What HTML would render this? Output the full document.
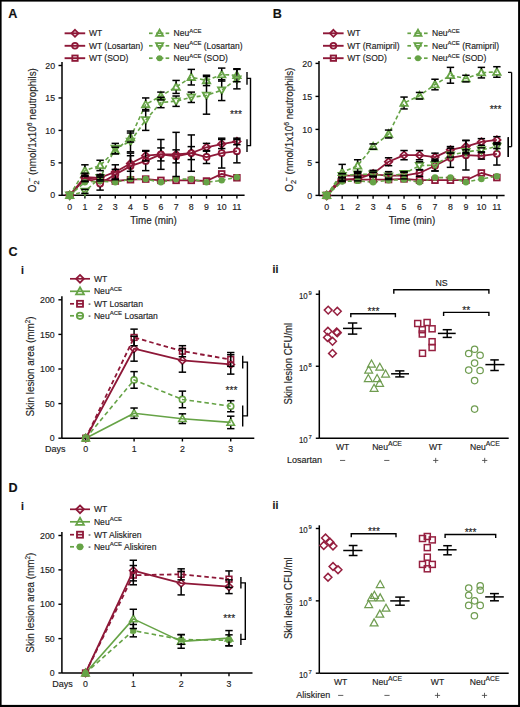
<!DOCTYPE html>
<html><head><meta charset="utf-8"><style>
html,body{margin:0;padding:0;background:#fff;}
svg{display:block;font-family:"Liberation Sans", sans-serif;}
text{stroke:#222;stroke-width:0.15px;}
</style></head><body>
<svg width="520" height="707" viewBox="0 0 520 707">
<rect x="0" y="0" width="520" height="707" fill="#fff"/>
<text x="8.30" y="18.30" font-size="12.6" text-anchor="start" font-weight="bold" fill="#111" >A</text>
<line x1="62.00" y1="62.00" x2="62.00" y2="195.30" stroke="#000" stroke-width="1.5" stroke-linecap="butt"/>
<line x1="62.00" y1="195.30" x2="244.60" y2="195.30" stroke="#000" stroke-width="1.5" stroke-linecap="butt"/>
<line x1="58.50" y1="195.30" x2="62.00" y2="195.30" stroke="#000" stroke-width="1.4" stroke-linecap="butt"/>
<text x="55.10" y="198.40" font-size="8.8" text-anchor="end" font-weight="normal" fill="#222" >0</text>
<line x1="58.50" y1="162.85" x2="62.00" y2="162.85" stroke="#000" stroke-width="1.4" stroke-linecap="butt"/>
<text x="55.10" y="165.95" font-size="8.8" text-anchor="end" font-weight="normal" fill="#222" >5</text>
<line x1="58.50" y1="130.40" x2="62.00" y2="130.40" stroke="#000" stroke-width="1.4" stroke-linecap="butt"/>
<text x="55.10" y="133.50" font-size="8.8" text-anchor="end" font-weight="normal" fill="#222" >10</text>
<line x1="58.50" y1="97.95" x2="62.00" y2="97.95" stroke="#000" stroke-width="1.4" stroke-linecap="butt"/>
<text x="55.10" y="101.05" font-size="8.8" text-anchor="end" font-weight="normal" fill="#222" >15</text>
<line x1="58.50" y1="65.50" x2="62.00" y2="65.50" stroke="#000" stroke-width="1.4" stroke-linecap="butt"/>
<text x="55.10" y="68.60" font-size="8.8" text-anchor="end" font-weight="normal" fill="#222" >20</text>
<line x1="69.70" y1="195.30" x2="69.70" y2="198.60" stroke="#000" stroke-width="1.4" stroke-linecap="butt"/>
<text x="69.70" y="210.30" font-size="8.8" text-anchor="middle" font-weight="normal" fill="#222" >0</text>
<line x1="84.90" y1="195.30" x2="84.90" y2="198.60" stroke="#000" stroke-width="1.4" stroke-linecap="butt"/>
<text x="84.90" y="210.30" font-size="8.8" text-anchor="middle" font-weight="normal" fill="#222" >1</text>
<line x1="100.10" y1="195.30" x2="100.10" y2="198.60" stroke="#000" stroke-width="1.4" stroke-linecap="butt"/>
<text x="100.10" y="210.30" font-size="8.8" text-anchor="middle" font-weight="normal" fill="#222" >2</text>
<line x1="115.30" y1="195.30" x2="115.30" y2="198.60" stroke="#000" stroke-width="1.4" stroke-linecap="butt"/>
<text x="115.30" y="210.30" font-size="8.8" text-anchor="middle" font-weight="normal" fill="#222" >3</text>
<line x1="130.50" y1="195.30" x2="130.50" y2="198.60" stroke="#000" stroke-width="1.4" stroke-linecap="butt"/>
<text x="130.50" y="210.30" font-size="8.8" text-anchor="middle" font-weight="normal" fill="#222" >4</text>
<line x1="145.70" y1="195.30" x2="145.70" y2="198.60" stroke="#000" stroke-width="1.4" stroke-linecap="butt"/>
<text x="145.70" y="210.30" font-size="8.8" text-anchor="middle" font-weight="normal" fill="#222" >5</text>
<line x1="160.90" y1="195.30" x2="160.90" y2="198.60" stroke="#000" stroke-width="1.4" stroke-linecap="butt"/>
<text x="160.90" y="210.30" font-size="8.8" text-anchor="middle" font-weight="normal" fill="#222" >6</text>
<line x1="176.10" y1="195.30" x2="176.10" y2="198.60" stroke="#000" stroke-width="1.4" stroke-linecap="butt"/>
<text x="176.10" y="210.30" font-size="8.8" text-anchor="middle" font-weight="normal" fill="#222" >7</text>
<line x1="191.30" y1="195.30" x2="191.30" y2="198.60" stroke="#000" stroke-width="1.4" stroke-linecap="butt"/>
<text x="191.30" y="210.30" font-size="8.8" text-anchor="middle" font-weight="normal" fill="#222" >8</text>
<line x1="206.50" y1="195.30" x2="206.50" y2="198.60" stroke="#000" stroke-width="1.4" stroke-linecap="butt"/>
<text x="206.50" y="210.30" font-size="8.8" text-anchor="middle" font-weight="normal" fill="#222" >9</text>
<line x1="221.70" y1="195.30" x2="221.70" y2="198.60" stroke="#000" stroke-width="1.4" stroke-linecap="butt"/>
<text x="221.70" y="210.30" font-size="8.8" text-anchor="middle" font-weight="normal" fill="#222" >10</text>
<line x1="236.90" y1="195.30" x2="236.90" y2="198.60" stroke="#000" stroke-width="1.4" stroke-linecap="butt"/>
<text x="236.90" y="210.30" font-size="8.8" text-anchor="middle" font-weight="normal" fill="#222" >11</text>
<text transform="translate(153.50,224.30) scale(0.92,1)" font-size="10.7" text-anchor="middle" fill="#222">Time (min)</text>
<text transform="translate(36.20,130.15) rotate(-90) scale(0.92,1)" font-size="10.75" text-anchor="middle" fill="#222">O<tspan font-size="8.0" dy="2.4">2</tspan><tspan font-size="7.4" dx="-1.5" dy="-6.5">−</tspan><tspan dy="4.1"> (nmol/1x10</tspan><tspan font-size="7.4" dy="-4.2">6</tspan><tspan dy="4.2"> neutrophils)</tspan></text>
<polyline points="69.70,195.30 84.90,177.13 100.10,177.78 115.30,171.94 130.50,163.50 145.70,155.71 160.90,154.41 176.10,154.41 191.30,153.12 206.50,147.27 221.70,144.03 236.90,141.43" fill="none" stroke="#8e1838" stroke-width="1.8" stroke-linejoin="round"/>
<polyline points="69.70,195.30 84.90,178.43 100.10,183.62 115.30,174.53 130.50,166.09 145.70,160.90 160.90,154.41 176.10,156.36 191.30,153.12 206.50,157.01 221.70,153.12 236.90,151.17" fill="none" stroke="#8e1838" stroke-width="1.8" stroke-linejoin="round"/>
<polyline points="69.70,195.30 84.90,178.43 100.10,179.72 115.30,181.02 130.50,179.72 145.70,179.08 160.90,180.37 176.10,180.37 191.30,180.37 206.50,181.02 221.70,173.88 236.90,177.78" fill="none" stroke="#8e1838" stroke-width="1.8" stroke-linejoin="round"/>
<polyline points="69.70,195.30 84.90,170.64 100.10,165.45 115.30,150.52 130.50,137.54 145.70,104.44 160.90,96.00 176.10,86.92 191.30,77.18 206.50,80.43 221.70,74.59 236.90,75.24" fill="none" stroke="#66a346" stroke-width="1.6" stroke-dasharray="4,2.6" stroke-linejoin="round"/>
<polyline points="69.70,195.30 84.90,191.41 100.10,177.78 115.30,148.57 130.50,141.43 145.70,120.02 160.90,102.49 176.10,101.20 191.30,97.30 206.50,95.35 221.70,90.16 236.90,79.13" fill="none" stroke="#66a346" stroke-width="1.6" stroke-dasharray="4,2.6" stroke-linejoin="round"/>
<polyline points="69.70,195.30 84.90,182.32 100.10,181.02 115.30,182.32 130.50,179.08 145.70,179.08 160.90,182.32 176.10,179.08 191.30,179.08 206.50,182.32 221.70,180.37 236.90,177.13" fill="none" stroke="#66a346" stroke-width="1.6" stroke-dasharray="4,2.6" stroke-linejoin="round"/>
<path d="M69.70 191.59L73.41 195.30L69.70 199.01L66.00 195.30Z" fill="none" stroke="#8e1838" stroke-width="1.8"/>
<path d="M84.90 173.42L88.61 177.13L84.90 180.83L81.20 177.13Z" fill="none" stroke="#8e1838" stroke-width="1.8"/>
<path d="M100.10 174.07L103.80 177.78L100.10 181.48L96.39 177.78Z" fill="none" stroke="#8e1838" stroke-width="1.8"/>
<path d="M115.30 168.23L119.00 171.94L115.30 175.64L111.59 171.94Z" fill="none" stroke="#8e1838" stroke-width="1.8"/>
<path d="M130.50 159.79L134.21 163.50L130.50 167.20L126.80 163.50Z" fill="none" stroke="#8e1838" stroke-width="1.8"/>
<path d="M145.70 152.01L149.41 155.71L145.70 159.42L141.99 155.71Z" fill="none" stroke="#8e1838" stroke-width="1.8"/>
<path d="M160.90 150.71L164.60 154.41L160.90 158.12L157.19 154.41Z" fill="none" stroke="#8e1838" stroke-width="1.8"/>
<path d="M176.10 150.71L179.81 154.41L176.10 158.12L172.39 154.41Z" fill="none" stroke="#8e1838" stroke-width="1.8"/>
<path d="M191.30 149.41L195.01 153.12L191.30 156.82L187.59 153.12Z" fill="none" stroke="#8e1838" stroke-width="1.8"/>
<path d="M206.50 143.57L210.21 147.27L206.50 150.98L202.79 147.27Z" fill="none" stroke="#8e1838" stroke-width="1.8"/>
<path d="M221.70 140.32L225.41 144.03L221.70 147.73L217.99 144.03Z" fill="none" stroke="#8e1838" stroke-width="1.8"/>
<path d="M236.90 137.73L240.60 141.43L236.90 145.14L233.19 141.43Z" fill="none" stroke="#8e1838" stroke-width="1.8"/>
<circle cx="69.70" cy="195.30" r="3.04" fill="none" stroke="#8e1838" stroke-width="1.8"/>
<circle cx="84.90" cy="178.43" r="3.04" fill="none" stroke="#8e1838" stroke-width="1.8"/>
<circle cx="100.10" cy="183.62" r="3.04" fill="none" stroke="#8e1838" stroke-width="1.8"/>
<circle cx="115.30" cy="174.53" r="3.04" fill="none" stroke="#8e1838" stroke-width="1.8"/>
<circle cx="130.50" cy="166.09" r="3.04" fill="none" stroke="#8e1838" stroke-width="1.8"/>
<circle cx="145.70" cy="160.90" r="3.04" fill="none" stroke="#8e1838" stroke-width="1.8"/>
<circle cx="160.90" cy="154.41" r="3.04" fill="none" stroke="#8e1838" stroke-width="1.8"/>
<circle cx="176.10" cy="156.36" r="3.04" fill="none" stroke="#8e1838" stroke-width="1.8"/>
<circle cx="191.30" cy="153.12" r="3.04" fill="none" stroke="#8e1838" stroke-width="1.8"/>
<circle cx="206.50" cy="157.01" r="3.04" fill="none" stroke="#8e1838" stroke-width="1.8"/>
<circle cx="221.70" cy="153.12" r="3.04" fill="none" stroke="#8e1838" stroke-width="1.8"/>
<circle cx="236.90" cy="151.17" r="3.04" fill="none" stroke="#8e1838" stroke-width="1.8"/>
<rect x="66.85" y="192.45" width="5.70" height="5.70" fill="none" stroke="#8e1838" stroke-width="1.8"/>
<rect x="82.05" y="175.58" width="5.70" height="5.70" fill="none" stroke="#8e1838" stroke-width="1.8"/>
<rect x="97.25" y="176.87" width="5.70" height="5.70" fill="none" stroke="#8e1838" stroke-width="1.8"/>
<rect x="112.45" y="178.17" width="5.70" height="5.70" fill="none" stroke="#8e1838" stroke-width="1.8"/>
<rect x="127.65" y="176.87" width="5.70" height="5.70" fill="none" stroke="#8e1838" stroke-width="1.8"/>
<rect x="142.85" y="176.23" width="5.70" height="5.70" fill="none" stroke="#8e1838" stroke-width="1.8"/>
<rect x="158.05" y="177.52" width="5.70" height="5.70" fill="none" stroke="#8e1838" stroke-width="1.8"/>
<rect x="173.25" y="177.52" width="5.70" height="5.70" fill="none" stroke="#8e1838" stroke-width="1.8"/>
<rect x="188.45" y="177.52" width="5.70" height="5.70" fill="none" stroke="#8e1838" stroke-width="1.8"/>
<rect x="203.65" y="178.17" width="5.70" height="5.70" fill="none" stroke="#8e1838" stroke-width="1.8"/>
<rect x="218.85" y="171.03" width="5.70" height="5.70" fill="none" stroke="#8e1838" stroke-width="1.8"/>
<rect x="234.05" y="174.93" width="5.70" height="5.70" fill="none" stroke="#8e1838" stroke-width="1.8"/>
<path d="M69.70 191.48L73.41 198.12L66.00 198.12Z" fill="none" stroke="#66a346" stroke-width="1.8" stroke-linejoin="miter"/>
<path d="M84.90 166.81L88.61 173.46L81.20 173.46Z" fill="none" stroke="#66a346" stroke-width="1.8" stroke-linejoin="miter"/>
<path d="M100.10 161.62L103.80 168.27L96.39 168.27Z" fill="none" stroke="#66a346" stroke-width="1.8" stroke-linejoin="miter"/>
<path d="M115.30 146.69L119.00 153.34L111.59 153.34Z" fill="none" stroke="#66a346" stroke-width="1.8" stroke-linejoin="miter"/>
<path d="M130.50 133.71L134.21 140.36L126.80 140.36Z" fill="none" stroke="#66a346" stroke-width="1.8" stroke-linejoin="miter"/>
<path d="M145.70 100.62L149.41 107.27L141.99 107.27Z" fill="none" stroke="#66a346" stroke-width="1.8" stroke-linejoin="miter"/>
<path d="M160.90 92.18L164.60 98.83L157.19 98.83Z" fill="none" stroke="#66a346" stroke-width="1.8" stroke-linejoin="miter"/>
<path d="M176.10 83.09L179.81 89.74L172.39 89.74Z" fill="none" stroke="#66a346" stroke-width="1.8" stroke-linejoin="miter"/>
<path d="M191.30 73.36L195.01 80.01L187.59 80.01Z" fill="none" stroke="#66a346" stroke-width="1.8" stroke-linejoin="miter"/>
<path d="M206.50 76.60L210.21 83.25L202.79 83.25Z" fill="none" stroke="#66a346" stroke-width="1.8" stroke-linejoin="miter"/>
<path d="M221.70 70.76L225.41 77.41L217.99 77.41Z" fill="none" stroke="#66a346" stroke-width="1.8" stroke-linejoin="miter"/>
<path d="M236.90 71.41L240.60 78.06L233.19 78.06Z" fill="none" stroke="#66a346" stroke-width="1.8" stroke-linejoin="miter"/>
<path d="M69.70 199.12L73.41 192.48L66.00 192.48Z" fill="none" stroke="#66a346" stroke-width="1.8" stroke-linejoin="miter"/>
<path d="M84.90 195.23L88.61 188.58L81.20 188.58Z" fill="none" stroke="#66a346" stroke-width="1.8" stroke-linejoin="miter"/>
<path d="M100.10 181.60L103.80 174.95L96.39 174.95Z" fill="none" stroke="#66a346" stroke-width="1.8" stroke-linejoin="miter"/>
<path d="M115.30 152.40L119.00 145.75L111.59 145.75Z" fill="none" stroke="#66a346" stroke-width="1.8" stroke-linejoin="miter"/>
<path d="M130.50 145.26L134.21 138.61L126.80 138.61Z" fill="none" stroke="#66a346" stroke-width="1.8" stroke-linejoin="miter"/>
<path d="M145.70 123.84L149.41 117.19L141.99 117.19Z" fill="none" stroke="#66a346" stroke-width="1.8" stroke-linejoin="miter"/>
<path d="M160.90 106.32L164.60 99.67L157.19 99.67Z" fill="none" stroke="#66a346" stroke-width="1.8" stroke-linejoin="miter"/>
<path d="M176.10 105.02L179.81 98.37L172.39 98.37Z" fill="none" stroke="#66a346" stroke-width="1.8" stroke-linejoin="miter"/>
<path d="M191.30 101.13L195.01 94.48L187.59 94.48Z" fill="none" stroke="#66a346" stroke-width="1.8" stroke-linejoin="miter"/>
<path d="M206.50 99.18L210.21 92.53L202.79 92.53Z" fill="none" stroke="#66a346" stroke-width="1.8" stroke-linejoin="miter"/>
<path d="M221.70 93.99L225.41 87.34L217.99 87.34Z" fill="none" stroke="#66a346" stroke-width="1.8" stroke-linejoin="miter"/>
<path d="M236.90 82.95L240.60 76.30L233.19 76.30Z" fill="none" stroke="#66a346" stroke-width="1.8" stroke-linejoin="miter"/>
<circle cx="69.70" cy="195.30" r="3.23" fill="#66a346" stroke="none"/>
<circle cx="84.90" cy="182.32" r="3.23" fill="#66a346" stroke="none"/>
<circle cx="100.10" cy="181.02" r="3.23" fill="#66a346" stroke="none"/>
<circle cx="115.30" cy="182.32" r="3.23" fill="#66a346" stroke="none"/>
<circle cx="130.50" cy="179.08" r="3.23" fill="#66a346" stroke="none"/>
<circle cx="145.70" cy="179.08" r="3.23" fill="#66a346" stroke="none"/>
<circle cx="160.90" cy="182.32" r="3.23" fill="#66a346" stroke="none"/>
<circle cx="176.10" cy="179.08" r="3.23" fill="#66a346" stroke="none"/>
<circle cx="191.30" cy="179.08" r="3.23" fill="#66a346" stroke="none"/>
<circle cx="206.50" cy="182.32" r="3.23" fill="#66a346" stroke="none"/>
<circle cx="221.70" cy="180.37" r="3.23" fill="#66a346" stroke="none"/>
<circle cx="236.90" cy="177.13" r="3.23" fill="#66a346" stroke="none"/>
<line x1="84.90" y1="173.23" x2="84.90" y2="173.73" stroke="#000" stroke-width="1.5" stroke-linecap="butt"/>
<line x1="84.90" y1="180.53" x2="84.90" y2="181.02" stroke="#000" stroke-width="1.5" stroke-linecap="butt"/>
<line x1="81.20" y1="173.23" x2="88.60" y2="173.23" stroke="#000" stroke-width="1.5" stroke-linecap="butt"/>
<line x1="81.20" y1="181.02" x2="88.60" y2="181.02" stroke="#000" stroke-width="1.5" stroke-linecap="butt"/>
<line x1="96.40" y1="174.53" x2="103.80" y2="174.53" stroke="#000" stroke-width="1.5" stroke-linecap="butt"/>
<line x1="96.40" y1="181.02" x2="103.80" y2="181.02" stroke="#000" stroke-width="1.5" stroke-linecap="butt"/>
<line x1="115.30" y1="164.80" x2="115.30" y2="168.54" stroke="#000" stroke-width="1.5" stroke-linecap="butt"/>
<line x1="115.30" y1="175.34" x2="115.30" y2="179.08" stroke="#000" stroke-width="1.5" stroke-linecap="butt"/>
<line x1="111.60" y1="164.80" x2="119.00" y2="164.80" stroke="#000" stroke-width="1.5" stroke-linecap="butt"/>
<line x1="111.60" y1="179.08" x2="119.00" y2="179.08" stroke="#000" stroke-width="1.5" stroke-linecap="butt"/>
<line x1="130.50" y1="155.71" x2="130.50" y2="160.10" stroke="#000" stroke-width="1.5" stroke-linecap="butt"/>
<line x1="130.50" y1="166.90" x2="130.50" y2="171.29" stroke="#000" stroke-width="1.5" stroke-linecap="butt"/>
<line x1="126.80" y1="155.71" x2="134.20" y2="155.71" stroke="#000" stroke-width="1.5" stroke-linecap="butt"/>
<line x1="126.80" y1="171.29" x2="134.20" y2="171.29" stroke="#000" stroke-width="1.5" stroke-linecap="butt"/>
<line x1="145.70" y1="150.52" x2="145.70" y2="152.31" stroke="#000" stroke-width="1.5" stroke-linecap="butt"/>
<line x1="145.70" y1="159.11" x2="145.70" y2="160.90" stroke="#000" stroke-width="1.5" stroke-linecap="butt"/>
<line x1="142.00" y1="150.52" x2="149.40" y2="150.52" stroke="#000" stroke-width="1.5" stroke-linecap="butt"/>
<line x1="142.00" y1="160.90" x2="149.40" y2="160.90" stroke="#000" stroke-width="1.5" stroke-linecap="butt"/>
<line x1="160.90" y1="139.49" x2="160.90" y2="151.01" stroke="#000" stroke-width="1.5" stroke-linecap="butt"/>
<line x1="160.90" y1="157.81" x2="160.90" y2="169.34" stroke="#000" stroke-width="1.5" stroke-linecap="butt"/>
<line x1="157.20" y1="139.49" x2="164.60" y2="139.49" stroke="#000" stroke-width="1.5" stroke-linecap="butt"/>
<line x1="157.20" y1="169.34" x2="164.60" y2="169.34" stroke="#000" stroke-width="1.5" stroke-linecap="butt"/>
<line x1="176.10" y1="132.35" x2="176.10" y2="151.01" stroke="#000" stroke-width="1.5" stroke-linecap="butt"/>
<line x1="176.10" y1="157.81" x2="176.10" y2="176.48" stroke="#000" stroke-width="1.5" stroke-linecap="butt"/>
<line x1="172.40" y1="132.35" x2="179.80" y2="132.35" stroke="#000" stroke-width="1.5" stroke-linecap="butt"/>
<line x1="172.40" y1="176.48" x2="179.80" y2="176.48" stroke="#000" stroke-width="1.5" stroke-linecap="butt"/>
<line x1="191.30" y1="134.94" x2="191.30" y2="149.72" stroke="#000" stroke-width="1.5" stroke-linecap="butt"/>
<line x1="191.30" y1="156.52" x2="191.30" y2="171.29" stroke="#000" stroke-width="1.5" stroke-linecap="butt"/>
<line x1="187.60" y1="134.94" x2="195.00" y2="134.94" stroke="#000" stroke-width="1.5" stroke-linecap="butt"/>
<line x1="187.60" y1="171.29" x2="195.00" y2="171.29" stroke="#000" stroke-width="1.5" stroke-linecap="butt"/>
<line x1="206.50" y1="143.38" x2="206.50" y2="143.87" stroke="#000" stroke-width="1.5" stroke-linecap="butt"/>
<line x1="206.50" y1="150.67" x2="206.50" y2="151.17" stroke="#000" stroke-width="1.5" stroke-linecap="butt"/>
<line x1="202.80" y1="143.38" x2="210.20" y2="143.38" stroke="#000" stroke-width="1.5" stroke-linecap="butt"/>
<line x1="202.80" y1="151.17" x2="210.20" y2="151.17" stroke="#000" stroke-width="1.5" stroke-linecap="butt"/>
<line x1="221.70" y1="139.49" x2="221.70" y2="140.63" stroke="#000" stroke-width="1.5" stroke-linecap="butt"/>
<line x1="221.70" y1="147.43" x2="221.70" y2="148.57" stroke="#000" stroke-width="1.5" stroke-linecap="butt"/>
<line x1="218.00" y1="139.49" x2="225.40" y2="139.49" stroke="#000" stroke-width="1.5" stroke-linecap="butt"/>
<line x1="218.00" y1="148.57" x2="225.40" y2="148.57" stroke="#000" stroke-width="1.5" stroke-linecap="butt"/>
<line x1="233.20" y1="138.19" x2="240.60" y2="138.19" stroke="#000" stroke-width="1.5" stroke-linecap="butt"/>
<line x1="233.20" y1="144.68" x2="240.60" y2="144.68" stroke="#000" stroke-width="1.5" stroke-linecap="butt"/>
<line x1="81.20" y1="175.18" x2="88.60" y2="175.18" stroke="#000" stroke-width="1.5" stroke-linecap="butt"/>
<line x1="81.20" y1="181.67" x2="88.60" y2="181.67" stroke="#000" stroke-width="1.5" stroke-linecap="butt"/>
<line x1="100.10" y1="177.13" x2="100.10" y2="180.22" stroke="#000" stroke-width="1.5" stroke-linecap="butt"/>
<line x1="100.10" y1="187.02" x2="100.10" y2="190.11" stroke="#000" stroke-width="1.5" stroke-linecap="butt"/>
<line x1="96.40" y1="177.13" x2="103.80" y2="177.13" stroke="#000" stroke-width="1.5" stroke-linecap="butt"/>
<line x1="96.40" y1="190.11" x2="103.80" y2="190.11" stroke="#000" stroke-width="1.5" stroke-linecap="butt"/>
<line x1="115.30" y1="169.34" x2="115.30" y2="171.13" stroke="#000" stroke-width="1.5" stroke-linecap="butt"/>
<line x1="115.30" y1="177.93" x2="115.30" y2="179.72" stroke="#000" stroke-width="1.5" stroke-linecap="butt"/>
<line x1="111.60" y1="169.34" x2="119.00" y2="169.34" stroke="#000" stroke-width="1.5" stroke-linecap="butt"/>
<line x1="111.60" y1="179.72" x2="119.00" y2="179.72" stroke="#000" stroke-width="1.5" stroke-linecap="butt"/>
<line x1="130.50" y1="153.12" x2="130.50" y2="162.69" stroke="#000" stroke-width="1.5" stroke-linecap="butt"/>
<line x1="130.50" y1="169.50" x2="130.50" y2="179.08" stroke="#000" stroke-width="1.5" stroke-linecap="butt"/>
<line x1="126.80" y1="153.12" x2="134.20" y2="153.12" stroke="#000" stroke-width="1.5" stroke-linecap="butt"/>
<line x1="126.80" y1="179.08" x2="134.20" y2="179.08" stroke="#000" stroke-width="1.5" stroke-linecap="butt"/>
<line x1="145.70" y1="151.17" x2="145.70" y2="157.50" stroke="#000" stroke-width="1.5" stroke-linecap="butt"/>
<line x1="145.70" y1="164.30" x2="145.70" y2="170.64" stroke="#000" stroke-width="1.5" stroke-linecap="butt"/>
<line x1="142.00" y1="151.17" x2="149.40" y2="151.17" stroke="#000" stroke-width="1.5" stroke-linecap="butt"/>
<line x1="142.00" y1="170.64" x2="149.40" y2="170.64" stroke="#000" stroke-width="1.5" stroke-linecap="butt"/>
<line x1="160.90" y1="147.92" x2="160.90" y2="151.01" stroke="#000" stroke-width="1.5" stroke-linecap="butt"/>
<line x1="160.90" y1="157.81" x2="160.90" y2="160.90" stroke="#000" stroke-width="1.5" stroke-linecap="butt"/>
<line x1="157.20" y1="147.92" x2="164.60" y2="147.92" stroke="#000" stroke-width="1.5" stroke-linecap="butt"/>
<line x1="157.20" y1="160.90" x2="164.60" y2="160.90" stroke="#000" stroke-width="1.5" stroke-linecap="butt"/>
<line x1="176.10" y1="149.87" x2="176.10" y2="152.96" stroke="#000" stroke-width="1.5" stroke-linecap="butt"/>
<line x1="176.10" y1="159.76" x2="176.10" y2="162.85" stroke="#000" stroke-width="1.5" stroke-linecap="butt"/>
<line x1="172.40" y1="149.87" x2="179.80" y2="149.87" stroke="#000" stroke-width="1.5" stroke-linecap="butt"/>
<line x1="172.40" y1="162.85" x2="179.80" y2="162.85" stroke="#000" stroke-width="1.5" stroke-linecap="butt"/>
<line x1="191.30" y1="146.62" x2="191.30" y2="149.72" stroke="#000" stroke-width="1.5" stroke-linecap="butt"/>
<line x1="191.30" y1="156.52" x2="191.30" y2="159.61" stroke="#000" stroke-width="1.5" stroke-linecap="butt"/>
<line x1="187.60" y1="146.62" x2="195.00" y2="146.62" stroke="#000" stroke-width="1.5" stroke-linecap="butt"/>
<line x1="187.60" y1="159.61" x2="195.00" y2="159.61" stroke="#000" stroke-width="1.5" stroke-linecap="butt"/>
<line x1="206.50" y1="150.52" x2="206.50" y2="153.61" stroke="#000" stroke-width="1.5" stroke-linecap="butt"/>
<line x1="206.50" y1="160.41" x2="206.50" y2="163.50" stroke="#000" stroke-width="1.5" stroke-linecap="butt"/>
<line x1="202.80" y1="150.52" x2="210.20" y2="150.52" stroke="#000" stroke-width="1.5" stroke-linecap="butt"/>
<line x1="202.80" y1="163.50" x2="210.20" y2="163.50" stroke="#000" stroke-width="1.5" stroke-linecap="butt"/>
<line x1="221.70" y1="138.19" x2="221.70" y2="149.72" stroke="#000" stroke-width="1.5" stroke-linecap="butt"/>
<line x1="221.70" y1="156.52" x2="221.70" y2="168.04" stroke="#000" stroke-width="1.5" stroke-linecap="butt"/>
<line x1="218.00" y1="138.19" x2="225.40" y2="138.19" stroke="#000" stroke-width="1.5" stroke-linecap="butt"/>
<line x1="218.00" y1="168.04" x2="225.40" y2="168.04" stroke="#000" stroke-width="1.5" stroke-linecap="butt"/>
<line x1="236.90" y1="139.49" x2="236.90" y2="147.77" stroke="#000" stroke-width="1.5" stroke-linecap="butt"/>
<line x1="236.90" y1="154.57" x2="236.90" y2="162.85" stroke="#000" stroke-width="1.5" stroke-linecap="butt"/>
<line x1="233.20" y1="139.49" x2="240.60" y2="139.49" stroke="#000" stroke-width="1.5" stroke-linecap="butt"/>
<line x1="233.20" y1="162.85" x2="240.60" y2="162.85" stroke="#000" stroke-width="1.5" stroke-linecap="butt"/>
<line x1="84.90" y1="164.80" x2="84.90" y2="167.24" stroke="#000" stroke-width="1.5" stroke-linecap="butt"/>
<line x1="84.90" y1="174.04" x2="84.90" y2="176.48" stroke="#000" stroke-width="1.5" stroke-linecap="butt"/>
<line x1="81.20" y1="164.80" x2="88.60" y2="164.80" stroke="#000" stroke-width="1.5" stroke-linecap="butt"/>
<line x1="81.20" y1="176.48" x2="88.60" y2="176.48" stroke="#000" stroke-width="1.5" stroke-linecap="butt"/>
<line x1="100.10" y1="160.25" x2="100.10" y2="162.05" stroke="#000" stroke-width="1.5" stroke-linecap="butt"/>
<line x1="100.10" y1="168.85" x2="100.10" y2="170.64" stroke="#000" stroke-width="1.5" stroke-linecap="butt"/>
<line x1="96.40" y1="160.25" x2="103.80" y2="160.25" stroke="#000" stroke-width="1.5" stroke-linecap="butt"/>
<line x1="96.40" y1="170.64" x2="103.80" y2="170.64" stroke="#000" stroke-width="1.5" stroke-linecap="butt"/>
<line x1="111.60" y1="147.27" x2="119.00" y2="147.27" stroke="#000" stroke-width="1.5" stroke-linecap="butt"/>
<line x1="111.60" y1="153.76" x2="119.00" y2="153.76" stroke="#000" stroke-width="1.5" stroke-linecap="butt"/>
<line x1="130.50" y1="133.00" x2="130.50" y2="134.14" stroke="#000" stroke-width="1.5" stroke-linecap="butt"/>
<line x1="130.50" y1="140.94" x2="130.50" y2="142.08" stroke="#000" stroke-width="1.5" stroke-linecap="butt"/>
<line x1="126.80" y1="133.00" x2="134.20" y2="133.00" stroke="#000" stroke-width="1.5" stroke-linecap="butt"/>
<line x1="126.80" y1="142.08" x2="134.20" y2="142.08" stroke="#000" stroke-width="1.5" stroke-linecap="butt"/>
<line x1="145.70" y1="97.95" x2="145.70" y2="101.04" stroke="#000" stroke-width="1.5" stroke-linecap="butt"/>
<line x1="145.70" y1="107.84" x2="145.70" y2="110.93" stroke="#000" stroke-width="1.5" stroke-linecap="butt"/>
<line x1="142.00" y1="97.95" x2="149.40" y2="97.95" stroke="#000" stroke-width="1.5" stroke-linecap="butt"/>
<line x1="142.00" y1="110.93" x2="149.40" y2="110.93" stroke="#000" stroke-width="1.5" stroke-linecap="butt"/>
<line x1="160.90" y1="92.11" x2="160.90" y2="92.60" stroke="#000" stroke-width="1.5" stroke-linecap="butt"/>
<line x1="160.90" y1="99.40" x2="160.90" y2="99.90" stroke="#000" stroke-width="1.5" stroke-linecap="butt"/>
<line x1="157.20" y1="92.11" x2="164.60" y2="92.11" stroke="#000" stroke-width="1.5" stroke-linecap="butt"/>
<line x1="157.20" y1="99.90" x2="164.60" y2="99.90" stroke="#000" stroke-width="1.5" stroke-linecap="butt"/>
<line x1="176.10" y1="80.43" x2="176.10" y2="83.52" stroke="#000" stroke-width="1.5" stroke-linecap="butt"/>
<line x1="176.10" y1="90.32" x2="176.10" y2="93.41" stroke="#000" stroke-width="1.5" stroke-linecap="butt"/>
<line x1="172.40" y1="80.43" x2="179.80" y2="80.43" stroke="#000" stroke-width="1.5" stroke-linecap="butt"/>
<line x1="172.40" y1="93.41" x2="179.80" y2="93.41" stroke="#000" stroke-width="1.5" stroke-linecap="butt"/>
<line x1="191.30" y1="69.39" x2="191.30" y2="73.78" stroke="#000" stroke-width="1.5" stroke-linecap="butt"/>
<line x1="191.30" y1="80.58" x2="191.30" y2="84.97" stroke="#000" stroke-width="1.5" stroke-linecap="butt"/>
<line x1="187.60" y1="69.39" x2="195.00" y2="69.39" stroke="#000" stroke-width="1.5" stroke-linecap="butt"/>
<line x1="187.60" y1="84.97" x2="195.00" y2="84.97" stroke="#000" stroke-width="1.5" stroke-linecap="butt"/>
<line x1="206.50" y1="75.24" x2="206.50" y2="77.03" stroke="#000" stroke-width="1.5" stroke-linecap="butt"/>
<line x1="206.50" y1="83.83" x2="206.50" y2="85.62" stroke="#000" stroke-width="1.5" stroke-linecap="butt"/>
<line x1="202.80" y1="75.24" x2="210.20" y2="75.24" stroke="#000" stroke-width="1.5" stroke-linecap="butt"/>
<line x1="202.80" y1="85.62" x2="210.20" y2="85.62" stroke="#000" stroke-width="1.5" stroke-linecap="butt"/>
<line x1="221.70" y1="68.10" x2="221.70" y2="71.19" stroke="#000" stroke-width="1.5" stroke-linecap="butt"/>
<line x1="221.70" y1="77.99" x2="221.70" y2="81.08" stroke="#000" stroke-width="1.5" stroke-linecap="butt"/>
<line x1="218.00" y1="68.10" x2="225.40" y2="68.10" stroke="#000" stroke-width="1.5" stroke-linecap="butt"/>
<line x1="218.00" y1="81.08" x2="225.40" y2="81.08" stroke="#000" stroke-width="1.5" stroke-linecap="butt"/>
<line x1="236.90" y1="68.75" x2="236.90" y2="71.84" stroke="#000" stroke-width="1.5" stroke-linecap="butt"/>
<line x1="236.90" y1="78.64" x2="236.90" y2="81.73" stroke="#000" stroke-width="1.5" stroke-linecap="butt"/>
<line x1="233.20" y1="68.75" x2="240.60" y2="68.75" stroke="#000" stroke-width="1.5" stroke-linecap="butt"/>
<line x1="233.20" y1="81.73" x2="240.60" y2="81.73" stroke="#000" stroke-width="1.5" stroke-linecap="butt"/>
<line x1="81.20" y1="189.46" x2="88.60" y2="189.46" stroke="#000" stroke-width="1.5" stroke-linecap="butt"/>
<line x1="81.20" y1="193.35" x2="88.60" y2="193.35" stroke="#000" stroke-width="1.5" stroke-linecap="butt"/>
<line x1="96.40" y1="175.83" x2="103.80" y2="175.83" stroke="#000" stroke-width="1.5" stroke-linecap="butt"/>
<line x1="96.40" y1="179.72" x2="103.80" y2="179.72" stroke="#000" stroke-width="1.5" stroke-linecap="butt"/>
<line x1="115.30" y1="143.38" x2="115.30" y2="145.17" stroke="#000" stroke-width="1.5" stroke-linecap="butt"/>
<line x1="115.30" y1="151.97" x2="115.30" y2="153.76" stroke="#000" stroke-width="1.5" stroke-linecap="butt"/>
<line x1="111.60" y1="143.38" x2="119.00" y2="143.38" stroke="#000" stroke-width="1.5" stroke-linecap="butt"/>
<line x1="111.60" y1="153.76" x2="119.00" y2="153.76" stroke="#000" stroke-width="1.5" stroke-linecap="butt"/>
<line x1="130.50" y1="131.05" x2="130.50" y2="138.03" stroke="#000" stroke-width="1.5" stroke-linecap="butt"/>
<line x1="130.50" y1="144.83" x2="130.50" y2="151.82" stroke="#000" stroke-width="1.5" stroke-linecap="butt"/>
<line x1="126.80" y1="131.05" x2="134.20" y2="131.05" stroke="#000" stroke-width="1.5" stroke-linecap="butt"/>
<line x1="126.80" y1="151.82" x2="134.20" y2="151.82" stroke="#000" stroke-width="1.5" stroke-linecap="butt"/>
<line x1="145.70" y1="109.63" x2="145.70" y2="116.62" stroke="#000" stroke-width="1.5" stroke-linecap="butt"/>
<line x1="145.70" y1="123.42" x2="145.70" y2="130.40" stroke="#000" stroke-width="1.5" stroke-linecap="butt"/>
<line x1="142.00" y1="109.63" x2="149.40" y2="109.63" stroke="#000" stroke-width="1.5" stroke-linecap="butt"/>
<line x1="142.00" y1="130.40" x2="149.40" y2="130.40" stroke="#000" stroke-width="1.5" stroke-linecap="butt"/>
<line x1="160.90" y1="97.30" x2="160.90" y2="99.09" stroke="#000" stroke-width="1.5" stroke-linecap="butt"/>
<line x1="160.90" y1="105.89" x2="160.90" y2="107.69" stroke="#000" stroke-width="1.5" stroke-linecap="butt"/>
<line x1="157.20" y1="97.30" x2="164.60" y2="97.30" stroke="#000" stroke-width="1.5" stroke-linecap="butt"/>
<line x1="157.20" y1="107.69" x2="164.60" y2="107.69" stroke="#000" stroke-width="1.5" stroke-linecap="butt"/>
<line x1="176.10" y1="96.00" x2="176.10" y2="97.80" stroke="#000" stroke-width="1.5" stroke-linecap="butt"/>
<line x1="176.10" y1="104.60" x2="176.10" y2="106.39" stroke="#000" stroke-width="1.5" stroke-linecap="butt"/>
<line x1="172.40" y1="96.00" x2="179.80" y2="96.00" stroke="#000" stroke-width="1.5" stroke-linecap="butt"/>
<line x1="172.40" y1="106.39" x2="179.80" y2="106.39" stroke="#000" stroke-width="1.5" stroke-linecap="butt"/>
<line x1="191.30" y1="92.11" x2="191.30" y2="93.90" stroke="#000" stroke-width="1.5" stroke-linecap="butt"/>
<line x1="191.30" y1="100.70" x2="191.30" y2="102.49" stroke="#000" stroke-width="1.5" stroke-linecap="butt"/>
<line x1="187.60" y1="92.11" x2="195.00" y2="92.11" stroke="#000" stroke-width="1.5" stroke-linecap="butt"/>
<line x1="187.60" y1="102.49" x2="195.00" y2="102.49" stroke="#000" stroke-width="1.5" stroke-linecap="butt"/>
<line x1="206.50" y1="76.53" x2="206.50" y2="91.95" stroke="#000" stroke-width="1.5" stroke-linecap="butt"/>
<line x1="206.50" y1="98.75" x2="206.50" y2="114.18" stroke="#000" stroke-width="1.5" stroke-linecap="butt"/>
<line x1="202.80" y1="76.53" x2="210.20" y2="76.53" stroke="#000" stroke-width="1.5" stroke-linecap="butt"/>
<line x1="202.80" y1="114.18" x2="210.20" y2="114.18" stroke="#000" stroke-width="1.5" stroke-linecap="butt"/>
<line x1="221.70" y1="79.78" x2="221.70" y2="86.76" stroke="#000" stroke-width="1.5" stroke-linecap="butt"/>
<line x1="221.70" y1="93.56" x2="221.70" y2="100.55" stroke="#000" stroke-width="1.5" stroke-linecap="butt"/>
<line x1="218.00" y1="79.78" x2="225.40" y2="79.78" stroke="#000" stroke-width="1.5" stroke-linecap="butt"/>
<line x1="218.00" y1="100.55" x2="225.40" y2="100.55" stroke="#000" stroke-width="1.5" stroke-linecap="butt"/>
<line x1="236.90" y1="69.39" x2="236.90" y2="75.73" stroke="#000" stroke-width="1.5" stroke-linecap="butt"/>
<line x1="236.90" y1="82.53" x2="236.90" y2="88.86" stroke="#000" stroke-width="1.5" stroke-linecap="butt"/>
<line x1="233.20" y1="69.39" x2="240.60" y2="69.39" stroke="#000" stroke-width="1.5" stroke-linecap="butt"/>
<line x1="233.20" y1="88.86" x2="240.60" y2="88.86" stroke="#000" stroke-width="1.5" stroke-linecap="butt"/>
<line x1="64.60" y1="33.30" x2="85.20" y2="33.30" stroke="#8e1838" stroke-width="1.9" stroke-linecap="butt"/>
<path d="M75.00 29.79L78.51 33.30L75.00 36.81L71.49 33.30Z" fill="none" stroke="#8e1838" stroke-width="1.8"/>
<text x="88.90" y="36.30" font-size="8.5" text-anchor="start" font-weight="normal" fill="#222" >WT</text>
<line x1="64.60" y1="45.80" x2="85.20" y2="45.80" stroke="#8e1838" stroke-width="1.9" stroke-linecap="butt"/>
<circle cx="75.00" cy="45.80" r="2.88" fill="none" stroke="#8e1838" stroke-width="1.8"/>
<text x="88.90" y="48.80" font-size="8.5" text-anchor="start" font-weight="normal" fill="#222" >WT (Losartan)</text>
<line x1="64.60" y1="58.20" x2="85.20" y2="58.20" stroke="#8e1838" stroke-width="1.9" stroke-linecap="butt"/>
<rect x="72.30" y="55.50" width="5.40" height="5.40" fill="none" stroke="#8e1838" stroke-width="1.8"/>
<text x="88.90" y="61.20" font-size="8.5" text-anchor="start" font-weight="normal" fill="#222" >WT (SOD)</text>
<line x1="149.00" y1="33.30" x2="152.60" y2="33.30" stroke="#66a346" stroke-width="1.7" stroke-linecap="butt"/>
<line x1="156.20" y1="33.30" x2="163.40" y2="33.30" stroke="#66a346" stroke-width="1.7" stroke-linecap="butt"/>
<line x1="165.60" y1="33.30" x2="169.20" y2="33.30" stroke="#66a346" stroke-width="1.7" stroke-linecap="butt"/>
<path d="M159.60 29.65L163.11 35.95L156.09 35.95Z" fill="none" stroke="#66a346" stroke-width="1.8" stroke-linejoin="miter"/>
<text x="173.60" y="36.30" font-size="8.5" text-anchor="start" fill="#222">Neu<tspan font-size="5.95" dy="-3.57">ACE</tspan><tspan dy="3.57"> </tspan></text>
<line x1="149.00" y1="45.80" x2="152.60" y2="45.80" stroke="#66a346" stroke-width="1.7" stroke-linecap="butt"/>
<line x1="156.20" y1="45.80" x2="163.40" y2="45.80" stroke="#66a346" stroke-width="1.7" stroke-linecap="butt"/>
<line x1="165.60" y1="45.80" x2="169.20" y2="45.80" stroke="#66a346" stroke-width="1.7" stroke-linecap="butt"/>
<path d="M159.60 49.45L163.11 43.15L156.09 43.15Z" fill="none" stroke="#66a346" stroke-width="1.8" stroke-linejoin="miter"/>
<text x="173.60" y="48.80" font-size="8.5" text-anchor="start" fill="#222">Neu<tspan font-size="5.95" dy="-3.57">ACE</tspan><tspan dy="3.57"> (Losartan)</tspan></text>
<line x1="149.00" y1="58.20" x2="152.60" y2="58.20" stroke="#66a346" stroke-width="1.7" stroke-linecap="butt"/>
<line x1="156.20" y1="58.20" x2="163.40" y2="58.20" stroke="#66a346" stroke-width="1.7" stroke-linecap="butt"/>
<line x1="165.60" y1="58.20" x2="169.20" y2="58.20" stroke="#66a346" stroke-width="1.7" stroke-linecap="butt"/>
<circle cx="159.60" cy="58.20" r="3.06" fill="#66a346" stroke="none"/>
<text x="173.60" y="61.20" font-size="8.5" text-anchor="start" fill="#222">Neu<tspan font-size="5.95" dy="-3.57">ACE</tspan><tspan dy="3.57"> (SOD)</tspan></text>
<line x1="247.00" y1="72.00" x2="247.00" y2="84.80" stroke="#000" stroke-width="1.4" stroke-linecap="butt"/>
<line x1="247.00" y1="139.30" x2="247.00" y2="152.00" stroke="#000" stroke-width="1.4" stroke-linecap="butt"/>
<polyline points="247.00,78.40 250.50,78.40 250.50,145.65 247.00,145.65" fill="none" stroke="#000" stroke-width="1.4"/>
<text x="236.00" y="117.80" font-size="10.2" text-anchor="middle" font-weight="normal" fill="#222" >***</text>
<text x="272.70" y="18.30" font-size="12.6" text-anchor="start" font-weight="bold" fill="#111" >B</text>
<line x1="319.00" y1="61.00" x2="319.00" y2="195.40" stroke="#000" stroke-width="1.5" stroke-linecap="butt"/>
<line x1="319.00" y1="195.40" x2="504.60" y2="195.40" stroke="#000" stroke-width="1.5" stroke-linecap="butt"/>
<line x1="315.50" y1="195.40" x2="319.00" y2="195.40" stroke="#000" stroke-width="1.4" stroke-linecap="butt"/>
<text x="312.10" y="198.50" font-size="8.8" text-anchor="end" font-weight="normal" fill="#222" >0</text>
<line x1="315.50" y1="162.40" x2="319.00" y2="162.40" stroke="#000" stroke-width="1.4" stroke-linecap="butt"/>
<text x="312.10" y="165.50" font-size="8.8" text-anchor="end" font-weight="normal" fill="#222" >5</text>
<line x1="315.50" y1="129.40" x2="319.00" y2="129.40" stroke="#000" stroke-width="1.4" stroke-linecap="butt"/>
<text x="312.10" y="132.50" font-size="8.8" text-anchor="end" font-weight="normal" fill="#222" >10</text>
<line x1="315.50" y1="96.40" x2="319.00" y2="96.40" stroke="#000" stroke-width="1.4" stroke-linecap="butt"/>
<text x="312.10" y="99.50" font-size="8.8" text-anchor="end" font-weight="normal" fill="#222" >15</text>
<line x1="315.50" y1="63.40" x2="319.00" y2="63.40" stroke="#000" stroke-width="1.4" stroke-linecap="butt"/>
<text x="312.10" y="66.50" font-size="8.8" text-anchor="end" font-weight="normal" fill="#222" >20</text>
<line x1="326.70" y1="195.40" x2="326.70" y2="198.70" stroke="#000" stroke-width="1.4" stroke-linecap="butt"/>
<text x="326.70" y="210.40" font-size="8.8" text-anchor="middle" font-weight="normal" fill="#222" >0</text>
<line x1="342.17" y1="195.40" x2="342.17" y2="198.70" stroke="#000" stroke-width="1.4" stroke-linecap="butt"/>
<text x="342.17" y="210.40" font-size="8.8" text-anchor="middle" font-weight="normal" fill="#222" >1</text>
<line x1="357.64" y1="195.40" x2="357.64" y2="198.70" stroke="#000" stroke-width="1.4" stroke-linecap="butt"/>
<text x="357.64" y="210.40" font-size="8.8" text-anchor="middle" font-weight="normal" fill="#222" >2</text>
<line x1="373.11" y1="195.40" x2="373.11" y2="198.70" stroke="#000" stroke-width="1.4" stroke-linecap="butt"/>
<text x="373.11" y="210.40" font-size="8.8" text-anchor="middle" font-weight="normal" fill="#222" >3</text>
<line x1="388.58" y1="195.40" x2="388.58" y2="198.70" stroke="#000" stroke-width="1.4" stroke-linecap="butt"/>
<text x="388.58" y="210.40" font-size="8.8" text-anchor="middle" font-weight="normal" fill="#222" >4</text>
<line x1="404.05" y1="195.40" x2="404.05" y2="198.70" stroke="#000" stroke-width="1.4" stroke-linecap="butt"/>
<text x="404.05" y="210.40" font-size="8.8" text-anchor="middle" font-weight="normal" fill="#222" >5</text>
<line x1="419.52" y1="195.40" x2="419.52" y2="198.70" stroke="#000" stroke-width="1.4" stroke-linecap="butt"/>
<text x="419.52" y="210.40" font-size="8.8" text-anchor="middle" font-weight="normal" fill="#222" >6</text>
<line x1="434.99" y1="195.40" x2="434.99" y2="198.70" stroke="#000" stroke-width="1.4" stroke-linecap="butt"/>
<text x="434.99" y="210.40" font-size="8.8" text-anchor="middle" font-weight="normal" fill="#222" >7</text>
<line x1="450.46" y1="195.40" x2="450.46" y2="198.70" stroke="#000" stroke-width="1.4" stroke-linecap="butt"/>
<text x="450.46" y="210.40" font-size="8.8" text-anchor="middle" font-weight="normal" fill="#222" >8</text>
<line x1="465.93" y1="195.40" x2="465.93" y2="198.70" stroke="#000" stroke-width="1.4" stroke-linecap="butt"/>
<text x="465.93" y="210.40" font-size="8.8" text-anchor="middle" font-weight="normal" fill="#222" >9</text>
<line x1="481.40" y1="195.40" x2="481.40" y2="198.70" stroke="#000" stroke-width="1.4" stroke-linecap="butt"/>
<text x="481.40" y="210.40" font-size="8.8" text-anchor="middle" font-weight="normal" fill="#222" >10</text>
<line x1="496.87" y1="195.40" x2="496.87" y2="198.70" stroke="#000" stroke-width="1.4" stroke-linecap="butt"/>
<text x="496.87" y="210.40" font-size="8.8" text-anchor="middle" font-weight="normal" fill="#222" >11</text>
<text transform="translate(411.98,224.40) scale(0.92,1)" font-size="10.7" text-anchor="middle" fill="#222">Time (min)</text>
<text transform="translate(293.20,129.70) rotate(-90) scale(0.92,1)" font-size="10.75" text-anchor="middle" fill="#222">O<tspan font-size="8.0" dy="2.4">2</tspan><tspan font-size="7.4" dx="-1.5" dy="-6.5">−</tspan><tspan dy="4.1"> (nmol/1x10</tspan><tspan font-size="7.4" dy="-4.2">6</tspan><tspan dy="4.2"> neutrophils)</tspan></text>
<polyline points="326.70,195.40 342.17,179.56 357.64,178.90 373.11,173.62 388.58,161.74 404.05,155.14 419.52,155.14 434.99,157.12 450.46,149.86 465.93,146.56 481.40,141.94 496.87,139.96" fill="none" stroke="#8e1838" stroke-width="1.8" stroke-linejoin="round"/>
<polyline points="326.70,195.40 342.17,175.60 357.64,175.60 373.11,174.28 388.58,175.60 404.05,175.60 419.52,172.96 434.99,165.70 450.46,157.78 465.93,155.14 481.40,155.80 496.87,153.82" fill="none" stroke="#8e1838" stroke-width="1.8" stroke-linejoin="round"/>
<polyline points="326.70,195.40 342.17,179.56 357.64,179.56 373.11,179.56 388.58,179.56 404.05,178.90 419.52,180.22 434.99,180.22 450.46,180.22 465.93,180.22 481.40,172.96 496.87,177.58" fill="none" stroke="#8e1838" stroke-width="1.8" stroke-linejoin="round"/>
<polyline points="326.70,195.40 342.17,172.30 357.64,165.70 373.11,146.56 388.58,134.02 404.05,103.00 419.52,95.74 434.99,84.52 450.46,75.28 465.93,78.58 481.40,72.64 496.87,71.98" fill="none" stroke="#66a346" stroke-width="1.6" stroke-dasharray="4,2.6" stroke-linejoin="round"/>
<polyline points="326.70,195.40 342.17,175.60 357.64,174.28 373.11,174.28 388.58,176.26 404.05,173.62 419.52,165.70 434.99,165.04 450.46,155.14 465.93,151.84 481.40,149.86 496.87,146.56" fill="none" stroke="#66a346" stroke-width="1.6" stroke-dasharray="4,2.6" stroke-linejoin="round"/>
<polyline points="326.70,195.40 342.17,181.54 357.64,180.88 373.11,182.20 388.58,180.22 404.05,179.56 419.52,182.20 434.99,177.58 450.46,177.58 465.93,182.20 481.40,178.90 496.87,176.26" fill="none" stroke="#66a346" stroke-width="1.6" stroke-dasharray="4,2.6" stroke-linejoin="round"/>
<path d="M326.70 191.69L330.40 195.40L326.70 199.11L323.00 195.40Z" fill="none" stroke="#8e1838" stroke-width="1.8"/>
<path d="M342.17 175.85L345.88 179.56L342.17 183.27L338.47 179.56Z" fill="none" stroke="#8e1838" stroke-width="1.8"/>
<path d="M357.64 175.19L361.34 178.90L357.64 182.61L353.94 178.90Z" fill="none" stroke="#8e1838" stroke-width="1.8"/>
<path d="M373.11 169.91L376.81 173.62L373.11 177.33L369.41 173.62Z" fill="none" stroke="#8e1838" stroke-width="1.8"/>
<path d="M388.58 158.03L392.28 161.74L388.58 165.45L384.88 161.74Z" fill="none" stroke="#8e1838" stroke-width="1.8"/>
<path d="M404.05 151.44L407.75 155.14L404.05 158.85L400.35 155.14Z" fill="none" stroke="#8e1838" stroke-width="1.8"/>
<path d="M419.52 151.44L423.22 155.14L419.52 158.85L415.81 155.14Z" fill="none" stroke="#8e1838" stroke-width="1.8"/>
<path d="M434.99 153.41L438.69 157.12L434.99 160.83L431.29 157.12Z" fill="none" stroke="#8e1838" stroke-width="1.8"/>
<path d="M450.46 146.16L454.16 149.86L450.46 153.57L446.75 149.86Z" fill="none" stroke="#8e1838" stroke-width="1.8"/>
<path d="M465.93 142.85L469.63 146.56L465.93 150.27L462.23 146.56Z" fill="none" stroke="#8e1838" stroke-width="1.8"/>
<path d="M481.40 138.23L485.10 141.94L481.40 145.65L477.69 141.94Z" fill="none" stroke="#8e1838" stroke-width="1.8"/>
<path d="M496.87 136.25L500.57 139.96L496.87 143.67L493.17 139.96Z" fill="none" stroke="#8e1838" stroke-width="1.8"/>
<circle cx="326.70" cy="195.40" r="3.04" fill="none" stroke="#8e1838" stroke-width="1.8"/>
<circle cx="342.17" cy="175.60" r="3.04" fill="none" stroke="#8e1838" stroke-width="1.8"/>
<circle cx="357.64" cy="175.60" r="3.04" fill="none" stroke="#8e1838" stroke-width="1.8"/>
<circle cx="373.11" cy="174.28" r="3.04" fill="none" stroke="#8e1838" stroke-width="1.8"/>
<circle cx="388.58" cy="175.60" r="3.04" fill="none" stroke="#8e1838" stroke-width="1.8"/>
<circle cx="404.05" cy="175.60" r="3.04" fill="none" stroke="#8e1838" stroke-width="1.8"/>
<circle cx="419.52" cy="172.96" r="3.04" fill="none" stroke="#8e1838" stroke-width="1.8"/>
<circle cx="434.99" cy="165.70" r="3.04" fill="none" stroke="#8e1838" stroke-width="1.8"/>
<circle cx="450.46" cy="157.78" r="3.04" fill="none" stroke="#8e1838" stroke-width="1.8"/>
<circle cx="465.93" cy="155.14" r="3.04" fill="none" stroke="#8e1838" stroke-width="1.8"/>
<circle cx="481.40" cy="155.80" r="3.04" fill="none" stroke="#8e1838" stroke-width="1.8"/>
<circle cx="496.87" cy="153.82" r="3.04" fill="none" stroke="#8e1838" stroke-width="1.8"/>
<rect x="323.85" y="192.55" width="5.70" height="5.70" fill="none" stroke="#8e1838" stroke-width="1.8"/>
<rect x="339.32" y="176.71" width="5.70" height="5.70" fill="none" stroke="#8e1838" stroke-width="1.8"/>
<rect x="354.79" y="176.71" width="5.70" height="5.70" fill="none" stroke="#8e1838" stroke-width="1.8"/>
<rect x="370.26" y="176.71" width="5.70" height="5.70" fill="none" stroke="#8e1838" stroke-width="1.8"/>
<rect x="385.73" y="176.71" width="5.70" height="5.70" fill="none" stroke="#8e1838" stroke-width="1.8"/>
<rect x="401.20" y="176.05" width="5.70" height="5.70" fill="none" stroke="#8e1838" stroke-width="1.8"/>
<rect x="416.67" y="177.37" width="5.70" height="5.70" fill="none" stroke="#8e1838" stroke-width="1.8"/>
<rect x="432.14" y="177.37" width="5.70" height="5.70" fill="none" stroke="#8e1838" stroke-width="1.8"/>
<rect x="447.61" y="177.37" width="5.70" height="5.70" fill="none" stroke="#8e1838" stroke-width="1.8"/>
<rect x="463.08" y="177.37" width="5.70" height="5.70" fill="none" stroke="#8e1838" stroke-width="1.8"/>
<rect x="478.55" y="170.11" width="5.70" height="5.70" fill="none" stroke="#8e1838" stroke-width="1.8"/>
<rect x="494.02" y="174.73" width="5.70" height="5.70" fill="none" stroke="#8e1838" stroke-width="1.8"/>
<path d="M326.70 191.58L330.40 198.22L323.00 198.22Z" fill="none" stroke="#66a346" stroke-width="1.8" stroke-linejoin="miter"/>
<path d="M342.17 168.48L345.88 175.12L338.47 175.12Z" fill="none" stroke="#66a346" stroke-width="1.8" stroke-linejoin="miter"/>
<path d="M357.64 161.88L361.34 168.53L353.94 168.53Z" fill="none" stroke="#66a346" stroke-width="1.8" stroke-linejoin="miter"/>
<path d="M373.11 142.74L376.81 149.38L369.41 149.38Z" fill="none" stroke="#66a346" stroke-width="1.8" stroke-linejoin="miter"/>
<path d="M388.58 130.20L392.28 136.84L384.88 136.84Z" fill="none" stroke="#66a346" stroke-width="1.8" stroke-linejoin="miter"/>
<path d="M404.05 99.18L407.75 105.83L400.35 105.83Z" fill="none" stroke="#66a346" stroke-width="1.8" stroke-linejoin="miter"/>
<path d="M419.52 91.92L423.22 98.57L415.81 98.57Z" fill="none" stroke="#66a346" stroke-width="1.8" stroke-linejoin="miter"/>
<path d="M434.99 80.70L438.69 87.35L431.29 87.35Z" fill="none" stroke="#66a346" stroke-width="1.8" stroke-linejoin="miter"/>
<path d="M450.46 71.46L454.16 78.11L446.75 78.11Z" fill="none" stroke="#66a346" stroke-width="1.8" stroke-linejoin="miter"/>
<path d="M465.93 74.76L469.63 81.41L462.23 81.41Z" fill="none" stroke="#66a346" stroke-width="1.8" stroke-linejoin="miter"/>
<path d="M481.40 68.81L485.10 75.47L477.69 75.47Z" fill="none" stroke="#66a346" stroke-width="1.8" stroke-linejoin="miter"/>
<path d="M496.87 68.16L500.57 74.81L493.17 74.81Z" fill="none" stroke="#66a346" stroke-width="1.8" stroke-linejoin="miter"/>
<path d="M326.70 199.22L330.40 192.58L323.00 192.58Z" fill="none" stroke="#66a346" stroke-width="1.8" stroke-linejoin="miter"/>
<path d="M342.17 179.43L345.88 172.78L338.47 172.78Z" fill="none" stroke="#66a346" stroke-width="1.8" stroke-linejoin="miter"/>
<path d="M357.64 178.10L361.34 171.46L353.94 171.46Z" fill="none" stroke="#66a346" stroke-width="1.8" stroke-linejoin="miter"/>
<path d="M373.11 178.10L376.81 171.46L369.41 171.46Z" fill="none" stroke="#66a346" stroke-width="1.8" stroke-linejoin="miter"/>
<path d="M388.58 180.09L392.28 173.44L384.88 173.44Z" fill="none" stroke="#66a346" stroke-width="1.8" stroke-linejoin="miter"/>
<path d="M404.05 177.44L407.75 170.80L400.35 170.80Z" fill="none" stroke="#66a346" stroke-width="1.8" stroke-linejoin="miter"/>
<path d="M419.52 169.53L423.22 162.88L415.81 162.88Z" fill="none" stroke="#66a346" stroke-width="1.8" stroke-linejoin="miter"/>
<path d="M434.99 168.87L438.69 162.22L431.29 162.22Z" fill="none" stroke="#66a346" stroke-width="1.8" stroke-linejoin="miter"/>
<path d="M450.46 158.97L454.16 152.32L446.75 152.32Z" fill="none" stroke="#66a346" stroke-width="1.8" stroke-linejoin="miter"/>
<path d="M465.93 155.66L469.63 149.02L462.23 149.02Z" fill="none" stroke="#66a346" stroke-width="1.8" stroke-linejoin="miter"/>
<path d="M481.40 153.69L485.10 147.04L477.69 147.04Z" fill="none" stroke="#66a346" stroke-width="1.8" stroke-linejoin="miter"/>
<path d="M496.87 150.38L500.57 143.74L493.17 143.74Z" fill="none" stroke="#66a346" stroke-width="1.8" stroke-linejoin="miter"/>
<circle cx="326.70" cy="195.40" r="3.23" fill="#66a346" stroke="none"/>
<circle cx="342.17" cy="181.54" r="3.23" fill="#66a346" stroke="none"/>
<circle cx="357.64" cy="180.88" r="3.23" fill="#66a346" stroke="none"/>
<circle cx="373.11" cy="182.20" r="3.23" fill="#66a346" stroke="none"/>
<circle cx="388.58" cy="180.22" r="3.23" fill="#66a346" stroke="none"/>
<circle cx="404.05" cy="179.56" r="3.23" fill="#66a346" stroke="none"/>
<circle cx="419.52" cy="182.20" r="3.23" fill="#66a346" stroke="none"/>
<circle cx="434.99" cy="177.58" r="3.23" fill="#66a346" stroke="none"/>
<circle cx="450.46" cy="177.58" r="3.23" fill="#66a346" stroke="none"/>
<circle cx="465.93" cy="182.20" r="3.23" fill="#66a346" stroke="none"/>
<circle cx="481.40" cy="178.90" r="3.23" fill="#66a346" stroke="none"/>
<circle cx="496.87" cy="176.26" r="3.23" fill="#66a346" stroke="none"/>
<line x1="338.47" y1="177.58" x2="345.87" y2="177.58" stroke="#000" stroke-width="1.5" stroke-linecap="butt"/>
<line x1="338.47" y1="181.54" x2="345.87" y2="181.54" stroke="#000" stroke-width="1.5" stroke-linecap="butt"/>
<line x1="353.94" y1="176.92" x2="361.34" y2="176.92" stroke="#000" stroke-width="1.5" stroke-linecap="butt"/>
<line x1="353.94" y1="180.88" x2="361.34" y2="180.88" stroke="#000" stroke-width="1.5" stroke-linecap="butt"/>
<line x1="369.41" y1="170.32" x2="376.81" y2="170.32" stroke="#000" stroke-width="1.5" stroke-linecap="butt"/>
<line x1="369.41" y1="176.92" x2="376.81" y2="176.92" stroke="#000" stroke-width="1.5" stroke-linecap="butt"/>
<line x1="388.58" y1="157.78" x2="388.58" y2="158.34" stroke="#000" stroke-width="1.5" stroke-linecap="butt"/>
<line x1="388.58" y1="165.14" x2="388.58" y2="165.70" stroke="#000" stroke-width="1.5" stroke-linecap="butt"/>
<line x1="384.88" y1="157.78" x2="392.28" y2="157.78" stroke="#000" stroke-width="1.5" stroke-linecap="butt"/>
<line x1="384.88" y1="165.70" x2="392.28" y2="165.70" stroke="#000" stroke-width="1.5" stroke-linecap="butt"/>
<line x1="404.05" y1="150.52" x2="404.05" y2="151.74" stroke="#000" stroke-width="1.5" stroke-linecap="butt"/>
<line x1="404.05" y1="158.54" x2="404.05" y2="159.76" stroke="#000" stroke-width="1.5" stroke-linecap="butt"/>
<line x1="400.35" y1="150.52" x2="407.75" y2="150.52" stroke="#000" stroke-width="1.5" stroke-linecap="butt"/>
<line x1="400.35" y1="159.76" x2="407.75" y2="159.76" stroke="#000" stroke-width="1.5" stroke-linecap="butt"/>
<line x1="419.52" y1="150.52" x2="419.52" y2="151.74" stroke="#000" stroke-width="1.5" stroke-linecap="butt"/>
<line x1="419.52" y1="158.54" x2="419.52" y2="159.76" stroke="#000" stroke-width="1.5" stroke-linecap="butt"/>
<line x1="415.82" y1="150.52" x2="423.22" y2="150.52" stroke="#000" stroke-width="1.5" stroke-linecap="butt"/>
<line x1="415.82" y1="159.76" x2="423.22" y2="159.76" stroke="#000" stroke-width="1.5" stroke-linecap="butt"/>
<line x1="434.99" y1="153.16" x2="434.99" y2="153.72" stroke="#000" stroke-width="1.5" stroke-linecap="butt"/>
<line x1="434.99" y1="160.52" x2="434.99" y2="161.08" stroke="#000" stroke-width="1.5" stroke-linecap="butt"/>
<line x1="431.29" y1="153.16" x2="438.69" y2="153.16" stroke="#000" stroke-width="1.5" stroke-linecap="butt"/>
<line x1="431.29" y1="161.08" x2="438.69" y2="161.08" stroke="#000" stroke-width="1.5" stroke-linecap="butt"/>
<line x1="446.76" y1="146.56" x2="454.16" y2="146.56" stroke="#000" stroke-width="1.5" stroke-linecap="butt"/>
<line x1="446.76" y1="153.16" x2="454.16" y2="153.16" stroke="#000" stroke-width="1.5" stroke-linecap="butt"/>
<line x1="465.93" y1="140.62" x2="465.93" y2="143.16" stroke="#000" stroke-width="1.5" stroke-linecap="butt"/>
<line x1="465.93" y1="149.96" x2="465.93" y2="152.50" stroke="#000" stroke-width="1.5" stroke-linecap="butt"/>
<line x1="462.23" y1="140.62" x2="469.63" y2="140.62" stroke="#000" stroke-width="1.5" stroke-linecap="butt"/>
<line x1="462.23" y1="152.50" x2="469.63" y2="152.50" stroke="#000" stroke-width="1.5" stroke-linecap="butt"/>
<line x1="477.70" y1="138.64" x2="485.10" y2="138.64" stroke="#000" stroke-width="1.5" stroke-linecap="butt"/>
<line x1="477.70" y1="145.24" x2="485.10" y2="145.24" stroke="#000" stroke-width="1.5" stroke-linecap="butt"/>
<line x1="493.17" y1="136.66" x2="500.57" y2="136.66" stroke="#000" stroke-width="1.5" stroke-linecap="butt"/>
<line x1="493.17" y1="143.26" x2="500.57" y2="143.26" stroke="#000" stroke-width="1.5" stroke-linecap="butt"/>
<line x1="338.47" y1="173.62" x2="345.87" y2="173.62" stroke="#000" stroke-width="1.5" stroke-linecap="butt"/>
<line x1="338.47" y1="177.58" x2="345.87" y2="177.58" stroke="#000" stroke-width="1.5" stroke-linecap="butt"/>
<line x1="353.94" y1="173.62" x2="361.34" y2="173.62" stroke="#000" stroke-width="1.5" stroke-linecap="butt"/>
<line x1="353.94" y1="177.58" x2="361.34" y2="177.58" stroke="#000" stroke-width="1.5" stroke-linecap="butt"/>
<line x1="369.41" y1="172.30" x2="376.81" y2="172.30" stroke="#000" stroke-width="1.5" stroke-linecap="butt"/>
<line x1="369.41" y1="176.26" x2="376.81" y2="176.26" stroke="#000" stroke-width="1.5" stroke-linecap="butt"/>
<line x1="388.58" y1="171.64" x2="388.58" y2="172.20" stroke="#000" stroke-width="1.5" stroke-linecap="butt"/>
<line x1="388.58" y1="179.00" x2="388.58" y2="179.56" stroke="#000" stroke-width="1.5" stroke-linecap="butt"/>
<line x1="384.88" y1="171.64" x2="392.28" y2="171.64" stroke="#000" stroke-width="1.5" stroke-linecap="butt"/>
<line x1="384.88" y1="179.56" x2="392.28" y2="179.56" stroke="#000" stroke-width="1.5" stroke-linecap="butt"/>
<line x1="400.35" y1="172.30" x2="407.75" y2="172.30" stroke="#000" stroke-width="1.5" stroke-linecap="butt"/>
<line x1="400.35" y1="178.90" x2="407.75" y2="178.90" stroke="#000" stroke-width="1.5" stroke-linecap="butt"/>
<line x1="415.82" y1="169.66" x2="423.22" y2="169.66" stroke="#000" stroke-width="1.5" stroke-linecap="butt"/>
<line x1="415.82" y1="176.26" x2="423.22" y2="176.26" stroke="#000" stroke-width="1.5" stroke-linecap="butt"/>
<line x1="434.99" y1="160.42" x2="434.99" y2="162.30" stroke="#000" stroke-width="1.5" stroke-linecap="butt"/>
<line x1="434.99" y1="169.10" x2="434.99" y2="170.98" stroke="#000" stroke-width="1.5" stroke-linecap="butt"/>
<line x1="431.29" y1="160.42" x2="438.69" y2="160.42" stroke="#000" stroke-width="1.5" stroke-linecap="butt"/>
<line x1="431.29" y1="170.98" x2="438.69" y2="170.98" stroke="#000" stroke-width="1.5" stroke-linecap="butt"/>
<line x1="450.46" y1="148.21" x2="450.46" y2="154.38" stroke="#000" stroke-width="1.5" stroke-linecap="butt"/>
<line x1="450.46" y1="161.18" x2="450.46" y2="167.35" stroke="#000" stroke-width="1.5" stroke-linecap="butt"/>
<line x1="446.76" y1="148.21" x2="454.16" y2="148.21" stroke="#000" stroke-width="1.5" stroke-linecap="butt"/>
<line x1="446.76" y1="167.35" x2="454.16" y2="167.35" stroke="#000" stroke-width="1.5" stroke-linecap="butt"/>
<line x1="465.93" y1="140.29" x2="465.93" y2="151.74" stroke="#000" stroke-width="1.5" stroke-linecap="butt"/>
<line x1="465.93" y1="158.54" x2="465.93" y2="169.99" stroke="#000" stroke-width="1.5" stroke-linecap="butt"/>
<line x1="462.23" y1="140.29" x2="469.63" y2="140.29" stroke="#000" stroke-width="1.5" stroke-linecap="butt"/>
<line x1="462.23" y1="169.99" x2="469.63" y2="169.99" stroke="#000" stroke-width="1.5" stroke-linecap="butt"/>
<line x1="477.70" y1="152.50" x2="485.10" y2="152.50" stroke="#000" stroke-width="1.5" stroke-linecap="butt"/>
<line x1="477.70" y1="159.10" x2="485.10" y2="159.10" stroke="#000" stroke-width="1.5" stroke-linecap="butt"/>
<line x1="496.87" y1="142.60" x2="496.87" y2="150.42" stroke="#000" stroke-width="1.5" stroke-linecap="butt"/>
<line x1="496.87" y1="157.22" x2="496.87" y2="165.04" stroke="#000" stroke-width="1.5" stroke-linecap="butt"/>
<line x1="493.17" y1="142.60" x2="500.57" y2="142.60" stroke="#000" stroke-width="1.5" stroke-linecap="butt"/>
<line x1="493.17" y1="165.04" x2="500.57" y2="165.04" stroke="#000" stroke-width="1.5" stroke-linecap="butt"/>
<line x1="342.17" y1="164.38" x2="342.17" y2="168.90" stroke="#000" stroke-width="1.5" stroke-linecap="butt"/>
<line x1="342.17" y1="175.70" x2="342.17" y2="180.22" stroke="#000" stroke-width="1.5" stroke-linecap="butt"/>
<line x1="338.47" y1="164.38" x2="345.87" y2="164.38" stroke="#000" stroke-width="1.5" stroke-linecap="butt"/>
<line x1="338.47" y1="180.22" x2="345.87" y2="180.22" stroke="#000" stroke-width="1.5" stroke-linecap="butt"/>
<line x1="357.64" y1="159.76" x2="357.64" y2="162.30" stroke="#000" stroke-width="1.5" stroke-linecap="butt"/>
<line x1="357.64" y1="169.10" x2="357.64" y2="171.64" stroke="#000" stroke-width="1.5" stroke-linecap="butt"/>
<line x1="353.94" y1="159.76" x2="361.34" y2="159.76" stroke="#000" stroke-width="1.5" stroke-linecap="butt"/>
<line x1="353.94" y1="171.64" x2="361.34" y2="171.64" stroke="#000" stroke-width="1.5" stroke-linecap="butt"/>
<line x1="369.41" y1="143.92" x2="376.81" y2="143.92" stroke="#000" stroke-width="1.5" stroke-linecap="butt"/>
<line x1="369.41" y1="149.20" x2="376.81" y2="149.20" stroke="#000" stroke-width="1.5" stroke-linecap="butt"/>
<line x1="388.58" y1="130.06" x2="388.58" y2="130.62" stroke="#000" stroke-width="1.5" stroke-linecap="butt"/>
<line x1="388.58" y1="137.42" x2="388.58" y2="137.98" stroke="#000" stroke-width="1.5" stroke-linecap="butt"/>
<line x1="384.88" y1="130.06" x2="392.28" y2="130.06" stroke="#000" stroke-width="1.5" stroke-linecap="butt"/>
<line x1="384.88" y1="137.98" x2="392.28" y2="137.98" stroke="#000" stroke-width="1.5" stroke-linecap="butt"/>
<line x1="404.05" y1="97.06" x2="404.05" y2="99.60" stroke="#000" stroke-width="1.5" stroke-linecap="butt"/>
<line x1="404.05" y1="106.40" x2="404.05" y2="108.94" stroke="#000" stroke-width="1.5" stroke-linecap="butt"/>
<line x1="400.35" y1="97.06" x2="407.75" y2="97.06" stroke="#000" stroke-width="1.5" stroke-linecap="butt"/>
<line x1="400.35" y1="108.94" x2="407.75" y2="108.94" stroke="#000" stroke-width="1.5" stroke-linecap="butt"/>
<line x1="415.82" y1="92.44" x2="423.22" y2="92.44" stroke="#000" stroke-width="1.5" stroke-linecap="butt"/>
<line x1="415.82" y1="99.04" x2="423.22" y2="99.04" stroke="#000" stroke-width="1.5" stroke-linecap="butt"/>
<line x1="434.99" y1="79.24" x2="434.99" y2="81.12" stroke="#000" stroke-width="1.5" stroke-linecap="butt"/>
<line x1="434.99" y1="87.92" x2="434.99" y2="89.80" stroke="#000" stroke-width="1.5" stroke-linecap="butt"/>
<line x1="431.29" y1="79.24" x2="438.69" y2="79.24" stroke="#000" stroke-width="1.5" stroke-linecap="butt"/>
<line x1="431.29" y1="89.80" x2="438.69" y2="89.80" stroke="#000" stroke-width="1.5" stroke-linecap="butt"/>
<line x1="450.46" y1="67.36" x2="450.46" y2="71.88" stroke="#000" stroke-width="1.5" stroke-linecap="butt"/>
<line x1="450.46" y1="78.68" x2="450.46" y2="83.20" stroke="#000" stroke-width="1.5" stroke-linecap="butt"/>
<line x1="446.76" y1="67.36" x2="454.16" y2="67.36" stroke="#000" stroke-width="1.5" stroke-linecap="butt"/>
<line x1="446.76" y1="83.20" x2="454.16" y2="83.20" stroke="#000" stroke-width="1.5" stroke-linecap="butt"/>
<line x1="462.23" y1="75.28" x2="469.63" y2="75.28" stroke="#000" stroke-width="1.5" stroke-linecap="butt"/>
<line x1="462.23" y1="81.88" x2="469.63" y2="81.88" stroke="#000" stroke-width="1.5" stroke-linecap="butt"/>
<line x1="481.40" y1="67.36" x2="481.40" y2="69.24" stroke="#000" stroke-width="1.5" stroke-linecap="butt"/>
<line x1="481.40" y1="76.04" x2="481.40" y2="77.92" stroke="#000" stroke-width="1.5" stroke-linecap="butt"/>
<line x1="477.70" y1="67.36" x2="485.10" y2="67.36" stroke="#000" stroke-width="1.5" stroke-linecap="butt"/>
<line x1="477.70" y1="77.92" x2="485.10" y2="77.92" stroke="#000" stroke-width="1.5" stroke-linecap="butt"/>
<line x1="496.87" y1="66.70" x2="496.87" y2="68.58" stroke="#000" stroke-width="1.5" stroke-linecap="butt"/>
<line x1="496.87" y1="75.38" x2="496.87" y2="77.26" stroke="#000" stroke-width="1.5" stroke-linecap="butt"/>
<line x1="493.17" y1="66.70" x2="500.57" y2="66.70" stroke="#000" stroke-width="1.5" stroke-linecap="butt"/>
<line x1="493.17" y1="77.26" x2="500.57" y2="77.26" stroke="#000" stroke-width="1.5" stroke-linecap="butt"/>
<line x1="338.47" y1="173.62" x2="345.87" y2="173.62" stroke="#000" stroke-width="1.5" stroke-linecap="butt"/>
<line x1="338.47" y1="177.58" x2="345.87" y2="177.58" stroke="#000" stroke-width="1.5" stroke-linecap="butt"/>
<line x1="353.94" y1="172.30" x2="361.34" y2="172.30" stroke="#000" stroke-width="1.5" stroke-linecap="butt"/>
<line x1="353.94" y1="176.26" x2="361.34" y2="176.26" stroke="#000" stroke-width="1.5" stroke-linecap="butt"/>
<line x1="369.41" y1="172.30" x2="376.81" y2="172.30" stroke="#000" stroke-width="1.5" stroke-linecap="butt"/>
<line x1="369.41" y1="176.26" x2="376.81" y2="176.26" stroke="#000" stroke-width="1.5" stroke-linecap="butt"/>
<line x1="384.88" y1="174.28" x2="392.28" y2="174.28" stroke="#000" stroke-width="1.5" stroke-linecap="butt"/>
<line x1="384.88" y1="178.24" x2="392.28" y2="178.24" stroke="#000" stroke-width="1.5" stroke-linecap="butt"/>
<line x1="400.35" y1="171.64" x2="407.75" y2="171.64" stroke="#000" stroke-width="1.5" stroke-linecap="butt"/>
<line x1="400.35" y1="175.60" x2="407.75" y2="175.60" stroke="#000" stroke-width="1.5" stroke-linecap="butt"/>
<line x1="419.52" y1="161.74" x2="419.52" y2="162.30" stroke="#000" stroke-width="1.5" stroke-linecap="butt"/>
<line x1="419.52" y1="169.10" x2="419.52" y2="169.66" stroke="#000" stroke-width="1.5" stroke-linecap="butt"/>
<line x1="415.82" y1="161.74" x2="423.22" y2="161.74" stroke="#000" stroke-width="1.5" stroke-linecap="butt"/>
<line x1="415.82" y1="169.66" x2="423.22" y2="169.66" stroke="#000" stroke-width="1.5" stroke-linecap="butt"/>
<line x1="434.99" y1="159.10" x2="434.99" y2="161.64" stroke="#000" stroke-width="1.5" stroke-linecap="butt"/>
<line x1="434.99" y1="168.44" x2="434.99" y2="170.98" stroke="#000" stroke-width="1.5" stroke-linecap="butt"/>
<line x1="431.29" y1="159.10" x2="438.69" y2="159.10" stroke="#000" stroke-width="1.5" stroke-linecap="butt"/>
<line x1="431.29" y1="170.98" x2="438.69" y2="170.98" stroke="#000" stroke-width="1.5" stroke-linecap="butt"/>
<line x1="446.76" y1="153.16" x2="454.16" y2="153.16" stroke="#000" stroke-width="1.5" stroke-linecap="butt"/>
<line x1="446.76" y1="157.12" x2="454.16" y2="157.12" stroke="#000" stroke-width="1.5" stroke-linecap="butt"/>
<line x1="462.23" y1="149.86" x2="469.63" y2="149.86" stroke="#000" stroke-width="1.5" stroke-linecap="butt"/>
<line x1="462.23" y1="153.82" x2="469.63" y2="153.82" stroke="#000" stroke-width="1.5" stroke-linecap="butt"/>
<line x1="477.70" y1="147.88" x2="485.10" y2="147.88" stroke="#000" stroke-width="1.5" stroke-linecap="butt"/>
<line x1="477.70" y1="151.84" x2="485.10" y2="151.84" stroke="#000" stroke-width="1.5" stroke-linecap="butt"/>
<line x1="493.17" y1="144.58" x2="500.57" y2="144.58" stroke="#000" stroke-width="1.5" stroke-linecap="butt"/>
<line x1="493.17" y1="148.54" x2="500.57" y2="148.54" stroke="#000" stroke-width="1.5" stroke-linecap="butt"/>
<line x1="323.00" y1="33.30" x2="343.60" y2="33.30" stroke="#8e1838" stroke-width="1.9" stroke-linecap="butt"/>
<path d="M333.40 29.79L336.91 33.30L333.40 36.81L329.89 33.30Z" fill="none" stroke="#8e1838" stroke-width="1.8"/>
<text x="347.30" y="36.30" font-size="8.5" text-anchor="start" font-weight="normal" fill="#222" >WT</text>
<line x1="323.00" y1="45.80" x2="343.60" y2="45.80" stroke="#8e1838" stroke-width="1.9" stroke-linecap="butt"/>
<circle cx="333.40" cy="45.80" r="2.88" fill="none" stroke="#8e1838" stroke-width="1.8"/>
<text x="347.30" y="48.80" font-size="8.5" text-anchor="start" font-weight="normal" fill="#222" >WT (Ramipril)</text>
<line x1="323.00" y1="58.20" x2="343.60" y2="58.20" stroke="#8e1838" stroke-width="1.9" stroke-linecap="butt"/>
<rect x="330.70" y="55.50" width="5.40" height="5.40" fill="none" stroke="#8e1838" stroke-width="1.8"/>
<text x="347.30" y="61.20" font-size="8.5" text-anchor="start" font-weight="normal" fill="#222" >WT (SOD)</text>
<line x1="407.40" y1="33.30" x2="411.00" y2="33.30" stroke="#66a346" stroke-width="1.7" stroke-linecap="butt"/>
<line x1="414.60" y1="33.30" x2="421.80" y2="33.30" stroke="#66a346" stroke-width="1.7" stroke-linecap="butt"/>
<line x1="424.00" y1="33.30" x2="427.60" y2="33.30" stroke="#66a346" stroke-width="1.7" stroke-linecap="butt"/>
<path d="M418.00 29.65L421.51 35.95L414.49 35.95Z" fill="none" stroke="#66a346" stroke-width="1.8" stroke-linejoin="miter"/>
<text x="432.00" y="36.30" font-size="8.5" text-anchor="start" fill="#222">Neu<tspan font-size="5.95" dy="-3.57">ACE</tspan><tspan dy="3.57"> </tspan></text>
<line x1="407.40" y1="45.80" x2="411.00" y2="45.80" stroke="#66a346" stroke-width="1.7" stroke-linecap="butt"/>
<line x1="414.60" y1="45.80" x2="421.80" y2="45.80" stroke="#66a346" stroke-width="1.7" stroke-linecap="butt"/>
<line x1="424.00" y1="45.80" x2="427.60" y2="45.80" stroke="#66a346" stroke-width="1.7" stroke-linecap="butt"/>
<path d="M418.00 49.45L421.51 43.15L414.49 43.15Z" fill="none" stroke="#66a346" stroke-width="1.8" stroke-linejoin="miter"/>
<text x="432.00" y="48.80" font-size="8.5" text-anchor="start" fill="#222">Neu<tspan font-size="5.95" dy="-3.57">ACE</tspan><tspan dy="3.57"> (Ramipril)</tspan></text>
<line x1="407.40" y1="58.20" x2="411.00" y2="58.20" stroke="#66a346" stroke-width="1.7" stroke-linecap="butt"/>
<line x1="414.60" y1="58.20" x2="421.80" y2="58.20" stroke="#66a346" stroke-width="1.7" stroke-linecap="butt"/>
<line x1="424.00" y1="58.20" x2="427.60" y2="58.20" stroke="#66a346" stroke-width="1.7" stroke-linecap="butt"/>
<circle cx="418.00" cy="58.20" r="3.06" fill="#66a346" stroke="none"/>
<text x="432.00" y="61.20" font-size="8.5" text-anchor="start" fill="#222">Neu<tspan font-size="5.95" dy="-3.57">ACE</tspan><tspan dy="3.57"> (SOD)</tspan></text>
<line x1="508.30" y1="137.30" x2="508.30" y2="156.90" stroke="#000" stroke-width="1.4" stroke-linecap="butt"/>
<line x1="508.30" y1="137.30" x2="508.30" y2="156.90" stroke="#000" stroke-width="1.4" stroke-linecap="butt"/>
<polyline points="508.30,147.10 508.30,147.10 508.30,147.10 508.30,147.10" fill="none" stroke="#000" stroke-width="1.4"/>
<text x="495.60" y="112.80" font-size="10.2" text-anchor="middle" font-weight="normal" fill="#222" >***</text>
<line x1="511.60" y1="72.40" x2="511.60" y2="146.70" stroke="#000" stroke-width="1.3" stroke-linecap="butt"/>
<line x1="508.00" y1="72.40" x2="511.60" y2="72.40" stroke="#000" stroke-width="1.3" stroke-linecap="butt"/>
<line x1="508.00" y1="146.70" x2="511.60" y2="146.70" stroke="#000" stroke-width="1.3" stroke-linecap="butt"/>
<text x="8.60" y="255.60" font-size="12.6" text-anchor="start" font-weight="bold" fill="#111" >C</text>
<text x="21.00" y="273.60" font-size="10.5" text-anchor="start" font-weight="bold" fill="#111" >i</text>
<line x1="61.90" y1="296.30" x2="61.90" y2="438.20" stroke="#000" stroke-width="1.5" stroke-linecap="butt"/>
<line x1="61.90" y1="438.20" x2="254.30" y2="438.20" stroke="#000" stroke-width="1.5" stroke-linecap="butt"/>
<line x1="58.40" y1="438.20" x2="61.90" y2="438.20" stroke="#000" stroke-width="1.4" stroke-linecap="butt"/>
<text x="54.70" y="441.40" font-size="8.8" text-anchor="end" font-weight="normal" fill="#222" >0</text>
<line x1="58.40" y1="403.60" x2="61.90" y2="403.60" stroke="#000" stroke-width="1.4" stroke-linecap="butt"/>
<text x="54.70" y="406.80" font-size="8.8" text-anchor="end" font-weight="normal" fill="#222" >50</text>
<line x1="58.40" y1="369.00" x2="61.90" y2="369.00" stroke="#000" stroke-width="1.4" stroke-linecap="butt"/>
<text x="54.70" y="372.20" font-size="8.8" text-anchor="end" font-weight="normal" fill="#222" >100</text>
<line x1="58.40" y1="334.40" x2="61.90" y2="334.40" stroke="#000" stroke-width="1.4" stroke-linecap="butt"/>
<text x="54.70" y="337.60" font-size="8.8" text-anchor="end" font-weight="normal" fill="#222" >150</text>
<line x1="58.40" y1="299.80" x2="61.90" y2="299.80" stroke="#000" stroke-width="1.4" stroke-linecap="butt"/>
<text x="54.70" y="303.00" font-size="8.8" text-anchor="end" font-weight="normal" fill="#222" >200</text>
<line x1="85.75" y1="438.20" x2="85.75" y2="441.50" stroke="#000" stroke-width="1.4" stroke-linecap="butt"/>
<text x="85.75" y="451.90" font-size="8.8" text-anchor="middle" font-weight="normal" fill="#222" >0</text>
<line x1="134.08" y1="438.20" x2="134.08" y2="441.50" stroke="#000" stroke-width="1.4" stroke-linecap="butt"/>
<text x="134.08" y="451.90" font-size="8.8" text-anchor="middle" font-weight="normal" fill="#222" >1</text>
<line x1="182.41" y1="438.20" x2="182.41" y2="441.50" stroke="#000" stroke-width="1.4" stroke-linecap="butt"/>
<text x="182.41" y="451.90" font-size="8.8" text-anchor="middle" font-weight="normal" fill="#222" >2</text>
<line x1="230.74" y1="438.20" x2="230.74" y2="441.50" stroke="#000" stroke-width="1.4" stroke-linecap="butt"/>
<text x="230.74" y="451.90" font-size="8.8" text-anchor="middle" font-weight="normal" fill="#222" >3</text>
<text x="45.10" y="451.90" font-size="9.0" text-anchor="start" font-weight="normal" fill="#222" >Days</text>
<text transform="translate(34.10,366.35) rotate(-90) scale(0.92,1)" font-size="10.8" text-anchor="middle" fill="#222">Skin lesion area (mm<tspan font-size="7.0" dy="-4.1">2</tspan><tspan dy="4.1">)</tspan></text>
<polyline points="85.75,438.20 134.08,337.44 182.41,351.22 230.74,359.45" fill="none" stroke="#8e1838" stroke-width="1.8" stroke-dasharray="4.5,3" stroke-linejoin="round"/>
<polyline points="85.75,438.20 134.08,348.72 182.41,360.42 230.74,364.43" fill="none" stroke="#8e1838" stroke-width="1.8" stroke-linejoin="round"/>
<polyline points="85.75,438.20 134.08,379.93 182.41,399.45 230.74,406.23" fill="none" stroke="#66a346" stroke-width="1.6" stroke-dasharray="4.5,3" stroke-linejoin="round"/>
<polyline points="85.75,438.20 134.08,413.22 182.41,418.69 230.74,422.42" fill="none" stroke="#66a346" stroke-width="1.6" stroke-linejoin="round"/>
<rect x="82.90" y="435.35" width="5.70" height="5.70" fill="none" stroke="#8e1838" stroke-width="1.6"/>
<rect x="131.23" y="334.59" width="5.70" height="5.70" fill="none" stroke="#8e1838" stroke-width="1.6"/>
<rect x="179.56" y="348.37" width="5.70" height="5.70" fill="none" stroke="#8e1838" stroke-width="1.6"/>
<rect x="227.89" y="356.60" width="5.70" height="5.70" fill="none" stroke="#8e1838" stroke-width="1.6"/>
<path d="M85.75 434.50L89.45 438.20L85.75 441.90L82.05 438.20Z" fill="none" stroke="#8e1838" stroke-width="1.6"/>
<path d="M134.08 345.02L137.78 348.72L134.08 352.43L130.37 348.72Z" fill="none" stroke="#8e1838" stroke-width="1.6"/>
<path d="M182.41 356.71L186.12 360.42L182.41 364.12L178.70 360.42Z" fill="none" stroke="#8e1838" stroke-width="1.6"/>
<path d="M230.74 360.73L234.45 364.43L230.74 368.14L227.03 364.43Z" fill="none" stroke="#8e1838" stroke-width="1.6"/>
<circle cx="85.75" cy="438.20" r="3.04" fill="none" stroke="#66a346" stroke-width="1.6"/>
<circle cx="134.08" cy="379.93" r="3.04" fill="none" stroke="#66a346" stroke-width="1.6"/>
<circle cx="182.41" cy="399.45" r="3.04" fill="none" stroke="#66a346" stroke-width="1.6"/>
<circle cx="230.74" cy="406.23" r="3.04" fill="none" stroke="#66a346" stroke-width="1.6"/>
<path d="M85.75 434.38L89.45 441.02L82.05 441.02Z" fill="none" stroke="#66a346" stroke-width="1.6" stroke-linejoin="miter"/>
<path d="M134.08 409.39L137.78 416.04L130.37 416.04Z" fill="none" stroke="#66a346" stroke-width="1.6" stroke-linejoin="miter"/>
<path d="M182.41 414.86L186.12 421.51L178.70 421.51Z" fill="none" stroke="#66a346" stroke-width="1.6" stroke-linejoin="miter"/>
<path d="M230.74 418.60L234.45 425.25L227.03 425.25Z" fill="none" stroke="#66a346" stroke-width="1.6" stroke-linejoin="miter"/>
<line x1="134.08" y1="329.14" x2="134.08" y2="334.04" stroke="#000" stroke-width="1.5" stroke-linecap="butt"/>
<line x1="134.08" y1="340.84" x2="134.08" y2="345.75" stroke="#000" stroke-width="1.5" stroke-linecap="butt"/>
<line x1="130.38" y1="329.14" x2="137.78" y2="329.14" stroke="#000" stroke-width="1.5" stroke-linecap="butt"/>
<line x1="130.38" y1="345.75" x2="137.78" y2="345.75" stroke="#000" stroke-width="1.5" stroke-linecap="butt"/>
<line x1="182.41" y1="345.68" x2="182.41" y2="347.82" stroke="#000" stroke-width="1.5" stroke-linecap="butt"/>
<line x1="182.41" y1="354.62" x2="182.41" y2="356.75" stroke="#000" stroke-width="1.5" stroke-linecap="butt"/>
<line x1="178.71" y1="345.68" x2="186.11" y2="345.68" stroke="#000" stroke-width="1.5" stroke-linecap="butt"/>
<line x1="178.71" y1="356.75" x2="186.11" y2="356.75" stroke="#000" stroke-width="1.5" stroke-linecap="butt"/>
<line x1="230.74" y1="352.53" x2="230.74" y2="356.05" stroke="#000" stroke-width="1.5" stroke-linecap="butt"/>
<line x1="230.74" y1="362.85" x2="230.74" y2="366.37" stroke="#000" stroke-width="1.5" stroke-linecap="butt"/>
<line x1="227.04" y1="352.53" x2="234.44" y2="352.53" stroke="#000" stroke-width="1.5" stroke-linecap="butt"/>
<line x1="227.04" y1="366.37" x2="234.44" y2="366.37" stroke="#000" stroke-width="1.5" stroke-linecap="butt"/>
<line x1="134.08" y1="336.27" x2="134.08" y2="345.32" stroke="#000" stroke-width="1.5" stroke-linecap="butt"/>
<line x1="134.08" y1="352.12" x2="134.08" y2="361.18" stroke="#000" stroke-width="1.5" stroke-linecap="butt"/>
<line x1="130.38" y1="336.27" x2="137.78" y2="336.27" stroke="#000" stroke-width="1.5" stroke-linecap="butt"/>
<line x1="130.38" y1="361.18" x2="137.78" y2="361.18" stroke="#000" stroke-width="1.5" stroke-linecap="butt"/>
<line x1="182.41" y1="348.66" x2="182.41" y2="357.02" stroke="#000" stroke-width="1.5" stroke-linecap="butt"/>
<line x1="182.41" y1="363.82" x2="182.41" y2="372.18" stroke="#000" stroke-width="1.5" stroke-linecap="butt"/>
<line x1="178.71" y1="348.66" x2="186.11" y2="348.66" stroke="#000" stroke-width="1.5" stroke-linecap="butt"/>
<line x1="178.71" y1="372.18" x2="186.11" y2="372.18" stroke="#000" stroke-width="1.5" stroke-linecap="butt"/>
<line x1="230.74" y1="354.74" x2="230.74" y2="361.03" stroke="#000" stroke-width="1.5" stroke-linecap="butt"/>
<line x1="230.74" y1="367.83" x2="230.74" y2="374.12" stroke="#000" stroke-width="1.5" stroke-linecap="butt"/>
<line x1="227.04" y1="354.74" x2="234.44" y2="354.74" stroke="#000" stroke-width="1.5" stroke-linecap="butt"/>
<line x1="227.04" y1="374.12" x2="234.44" y2="374.12" stroke="#000" stroke-width="1.5" stroke-linecap="butt"/>
<line x1="134.08" y1="371.63" x2="134.08" y2="376.53" stroke="#000" stroke-width="1.5" stroke-linecap="butt"/>
<line x1="134.08" y1="383.33" x2="134.08" y2="388.24" stroke="#000" stroke-width="1.5" stroke-linecap="butt"/>
<line x1="130.38" y1="371.63" x2="137.78" y2="371.63" stroke="#000" stroke-width="1.5" stroke-linecap="butt"/>
<line x1="130.38" y1="388.24" x2="137.78" y2="388.24" stroke="#000" stroke-width="1.5" stroke-linecap="butt"/>
<line x1="182.41" y1="391.14" x2="182.41" y2="396.05" stroke="#000" stroke-width="1.5" stroke-linecap="butt"/>
<line x1="182.41" y1="402.85" x2="182.41" y2="407.75" stroke="#000" stroke-width="1.5" stroke-linecap="butt"/>
<line x1="178.71" y1="391.14" x2="186.11" y2="391.14" stroke="#000" stroke-width="1.5" stroke-linecap="butt"/>
<line x1="178.71" y1="407.75" x2="186.11" y2="407.75" stroke="#000" stroke-width="1.5" stroke-linecap="butt"/>
<line x1="230.74" y1="400.69" x2="230.74" y2="402.83" stroke="#000" stroke-width="1.5" stroke-linecap="butt"/>
<line x1="230.74" y1="409.63" x2="230.74" y2="411.77" stroke="#000" stroke-width="1.5" stroke-linecap="butt"/>
<line x1="227.04" y1="400.69" x2="234.44" y2="400.69" stroke="#000" stroke-width="1.5" stroke-linecap="butt"/>
<line x1="227.04" y1="411.77" x2="234.44" y2="411.77" stroke="#000" stroke-width="1.5" stroke-linecap="butt"/>
<line x1="134.08" y1="408.03" x2="134.08" y2="409.82" stroke="#000" stroke-width="1.5" stroke-linecap="butt"/>
<line x1="134.08" y1="416.62" x2="134.08" y2="418.41" stroke="#000" stroke-width="1.5" stroke-linecap="butt"/>
<line x1="130.38" y1="408.03" x2="137.78" y2="408.03" stroke="#000" stroke-width="1.5" stroke-linecap="butt"/>
<line x1="130.38" y1="418.41" x2="137.78" y2="418.41" stroke="#000" stroke-width="1.5" stroke-linecap="butt"/>
<line x1="182.41" y1="413.84" x2="182.41" y2="415.29" stroke="#000" stroke-width="1.5" stroke-linecap="butt"/>
<line x1="182.41" y1="422.09" x2="182.41" y2="423.53" stroke="#000" stroke-width="1.5" stroke-linecap="butt"/>
<line x1="178.71" y1="413.84" x2="186.11" y2="413.84" stroke="#000" stroke-width="1.5" stroke-linecap="butt"/>
<line x1="178.71" y1="423.53" x2="186.11" y2="423.53" stroke="#000" stroke-width="1.5" stroke-linecap="butt"/>
<line x1="230.74" y1="416.19" x2="230.74" y2="419.02" stroke="#000" stroke-width="1.5" stroke-linecap="butt"/>
<line x1="230.74" y1="425.82" x2="230.74" y2="428.65" stroke="#000" stroke-width="1.5" stroke-linecap="butt"/>
<line x1="227.04" y1="416.19" x2="234.44" y2="416.19" stroke="#000" stroke-width="1.5" stroke-linecap="butt"/>
<line x1="227.04" y1="428.65" x2="234.44" y2="428.65" stroke="#000" stroke-width="1.5" stroke-linecap="butt"/>
<line x1="70.00" y1="278.80" x2="90.00" y2="278.80" stroke="#8e1838" stroke-width="1.7" stroke-linecap="butt"/>
<path d="M80.00 274.90L83.90 278.80L80.00 282.70L76.10 278.80Z" fill="none" stroke="#8e1838" stroke-width="1.8"/>
<text x="93.90" y="281.80" font-size="8.6" text-anchor="start" font-weight="normal" fill="#222" >WT</text>
<line x1="70.00" y1="291.30" x2="90.00" y2="291.30" stroke="#66a346" stroke-width="1.7" stroke-linecap="butt"/>
<path d="M80.00 287.30L83.90 294.30L76.10 294.30Z" fill="none" stroke="#66a346" stroke-width="1.8" stroke-linejoin="miter"/>
<text x="93.90" y="294.30" font-size="8.6" text-anchor="start" fill="#222">Neu<tspan font-size="6.02" dy="-3.61">ACE</tspan><tspan dy="3.61"></tspan></text>
<line x1="70.00" y1="303.80" x2="74.00" y2="303.80" stroke="#8e1838" stroke-width="1.7" stroke-linecap="butt"/>
<line x1="76.50" y1="303.80" x2="83.50" y2="303.80" stroke="#8e1838" stroke-width="1.7" stroke-linecap="butt"/>
<line x1="88.60" y1="304.10" x2="90.40" y2="304.10" stroke="#444" stroke-width="1.2" stroke-linecap="butt"/>
<rect x="77.00" y="300.80" width="6.00" height="6.00" fill="none" stroke="#8e1838" stroke-width="1.8"/>
<text x="93.90" y="306.80" font-size="8.6" text-anchor="start" font-weight="normal" fill="#222" >WT Losartan</text>
<line x1="70.00" y1="315.80" x2="74.00" y2="315.80" stroke="#66a346" stroke-width="1.7" stroke-linecap="butt"/>
<line x1="76.50" y1="315.80" x2="83.50" y2="315.80" stroke="#66a346" stroke-width="1.7" stroke-linecap="butt"/>
<line x1="88.60" y1="316.10" x2="90.40" y2="316.10" stroke="#444" stroke-width="1.2" stroke-linecap="butt"/>
<circle cx="80.00" cy="315.80" r="3.20" fill="none" stroke="#66a346" stroke-width="1.8"/>
<text x="93.90" y="318.80" font-size="8.6" text-anchor="start" fill="#222">Neu<tspan font-size="6.02" dy="-3.61">ACE</tspan><tspan dy="3.61"> Losartan</tspan></text>
<line x1="242.70" y1="355.70" x2="242.70" y2="368.50" stroke="#000" stroke-width="1.4" stroke-linecap="butt"/>
<line x1="242.70" y1="405.40" x2="242.70" y2="426.40" stroke="#000" stroke-width="1.4" stroke-linecap="butt"/>
<polyline points="242.70,362.10 247.40,362.10 247.40,415.90 242.70,415.90" fill="none" stroke="#000" stroke-width="1.4"/>
<text x="231.50" y="393.90" font-size="10.2" text-anchor="middle" font-weight="normal" fill="#222" >***</text>
<text x="8.60" y="491.70" font-size="12.6" text-anchor="start" font-weight="bold" fill="#111" >D</text>
<text x="21.00" y="509.70" font-size="10.5" text-anchor="start" font-weight="bold" fill="#111" >i</text>
<line x1="61.90" y1="532.00" x2="61.90" y2="673.00" stroke="#000" stroke-width="1.5" stroke-linecap="butt"/>
<line x1="61.90" y1="673.00" x2="252.50" y2="673.00" stroke="#000" stroke-width="1.5" stroke-linecap="butt"/>
<line x1="58.40" y1="673.00" x2="61.90" y2="673.00" stroke="#000" stroke-width="1.4" stroke-linecap="butt"/>
<text x="54.70" y="676.20" font-size="8.8" text-anchor="end" font-weight="normal" fill="#222" >0</text>
<line x1="58.40" y1="638.62" x2="61.90" y2="638.62" stroke="#000" stroke-width="1.4" stroke-linecap="butt"/>
<text x="54.70" y="641.83" font-size="8.8" text-anchor="end" font-weight="normal" fill="#222" >50</text>
<line x1="58.40" y1="604.25" x2="61.90" y2="604.25" stroke="#000" stroke-width="1.4" stroke-linecap="butt"/>
<text x="54.70" y="607.45" font-size="8.8" text-anchor="end" font-weight="normal" fill="#222" >100</text>
<line x1="58.40" y1="569.88" x2="61.90" y2="569.88" stroke="#000" stroke-width="1.4" stroke-linecap="butt"/>
<text x="54.70" y="573.08" font-size="8.8" text-anchor="end" font-weight="normal" fill="#222" >150</text>
<line x1="58.40" y1="535.50" x2="61.90" y2="535.50" stroke="#000" stroke-width="1.4" stroke-linecap="butt"/>
<text x="54.70" y="538.70" font-size="8.8" text-anchor="end" font-weight="normal" fill="#222" >200</text>
<line x1="85.50" y1="673.00" x2="85.50" y2="676.30" stroke="#000" stroke-width="1.4" stroke-linecap="butt"/>
<text x="85.50" y="686.70" font-size="8.8" text-anchor="middle" font-weight="normal" fill="#222" >0</text>
<line x1="133.33" y1="673.00" x2="133.33" y2="676.30" stroke="#000" stroke-width="1.4" stroke-linecap="butt"/>
<text x="133.33" y="686.70" font-size="8.8" text-anchor="middle" font-weight="normal" fill="#222" >1</text>
<line x1="181.16" y1="673.00" x2="181.16" y2="676.30" stroke="#000" stroke-width="1.4" stroke-linecap="butt"/>
<text x="181.16" y="686.70" font-size="8.8" text-anchor="middle" font-weight="normal" fill="#222" >2</text>
<line x1="228.99" y1="673.00" x2="228.99" y2="676.30" stroke="#000" stroke-width="1.4" stroke-linecap="butt"/>
<text x="228.99" y="686.70" font-size="8.8" text-anchor="middle" font-weight="normal" fill="#222" >3</text>
<text x="52.20" y="686.70" font-size="9.0" text-anchor="start" font-weight="normal" fill="#222" >Days</text>
<text transform="translate(34.10,602.60) rotate(-90) scale(0.92,1)" font-size="10.8" text-anchor="middle" fill="#222">Skin lesion area (mm<tspan font-size="7.0" dy="-4.1">2</tspan><tspan dy="4.1">)</tspan></text>
<polyline points="85.50,673.00 133.33,575.17 181.16,574.34 228.99,579.16" fill="none" stroke="#8e1838" stroke-width="1.8" stroke-dasharray="4.5,3" stroke-linejoin="round"/>
<polyline points="85.50,673.00 133.33,570.56 181.16,583.21 228.99,586.72" fill="none" stroke="#8e1838" stroke-width="1.8" stroke-linejoin="round"/>
<polyline points="85.50,673.00 133.33,630.65 181.16,639.52 228.99,640.34" fill="none" stroke="#66a346" stroke-width="1.6" stroke-dasharray="4.5,3" stroke-linejoin="round"/>
<polyline points="85.50,673.00 133.33,618.89 181.16,641.38 228.99,638.14" fill="none" stroke="#66a346" stroke-width="1.6" stroke-linejoin="round"/>
<rect x="82.65" y="670.15" width="5.70" height="5.70" fill="none" stroke="#8e1838" stroke-width="1.6"/>
<rect x="130.48" y="572.32" width="5.70" height="5.70" fill="none" stroke="#8e1838" stroke-width="1.6"/>
<rect x="178.31" y="571.49" width="5.70" height="5.70" fill="none" stroke="#8e1838" stroke-width="1.6"/>
<rect x="226.14" y="576.31" width="5.70" height="5.70" fill="none" stroke="#8e1838" stroke-width="1.6"/>
<path d="M85.50 669.29L89.20 673.00L85.50 676.71L81.80 673.00Z" fill="none" stroke="#8e1838" stroke-width="1.6"/>
<path d="M133.33 566.86L137.03 570.56L133.33 574.27L129.62 570.56Z" fill="none" stroke="#8e1838" stroke-width="1.6"/>
<path d="M181.16 579.51L184.87 583.21L181.16 586.92L177.45 583.21Z" fill="none" stroke="#8e1838" stroke-width="1.6"/>
<path d="M228.99 583.01L232.70 586.72L228.99 590.42L225.28 586.72Z" fill="none" stroke="#8e1838" stroke-width="1.6"/>
<circle cx="85.50" cy="673.00" r="3.23" fill="#66a346" stroke="none"/>
<circle cx="133.33" cy="630.65" r="3.23" fill="#66a346" stroke="none"/>
<circle cx="181.16" cy="639.52" r="3.23" fill="#66a346" stroke="none"/>
<circle cx="228.99" cy="640.34" r="3.23" fill="#66a346" stroke="none"/>
<path d="M85.50 669.17L89.20 675.83L81.80 675.83Z" fill="none" stroke="#66a346" stroke-width="1.6" stroke-linejoin="miter"/>
<path d="M133.33 615.07L137.03 621.72L129.62 621.72Z" fill="none" stroke="#66a346" stroke-width="1.6" stroke-linejoin="miter"/>
<path d="M181.16 637.55L184.87 644.20L177.45 644.20Z" fill="none" stroke="#66a346" stroke-width="1.6" stroke-linejoin="miter"/>
<path d="M228.99 634.32L232.70 640.97L225.28 640.97Z" fill="none" stroke="#66a346" stroke-width="1.6" stroke-linejoin="miter"/>
<line x1="133.33" y1="565.54" x2="133.33" y2="571.77" stroke="#000" stroke-width="1.5" stroke-linecap="butt"/>
<line x1="133.33" y1="578.57" x2="133.33" y2="584.79" stroke="#000" stroke-width="1.5" stroke-linecap="butt"/>
<line x1="129.63" y1="565.54" x2="137.03" y2="565.54" stroke="#000" stroke-width="1.5" stroke-linecap="butt"/>
<line x1="129.63" y1="584.79" x2="137.03" y2="584.79" stroke="#000" stroke-width="1.5" stroke-linecap="butt"/>
<line x1="181.16" y1="568.84" x2="181.16" y2="570.94" stroke="#000" stroke-width="1.5" stroke-linecap="butt"/>
<line x1="181.16" y1="577.74" x2="181.16" y2="579.84" stroke="#000" stroke-width="1.5" stroke-linecap="butt"/>
<line x1="177.46" y1="568.84" x2="184.86" y2="568.84" stroke="#000" stroke-width="1.5" stroke-linecap="butt"/>
<line x1="177.46" y1="579.84" x2="184.86" y2="579.84" stroke="#000" stroke-width="1.5" stroke-linecap="butt"/>
<line x1="228.99" y1="570.91" x2="228.99" y2="575.76" stroke="#000" stroke-width="1.5" stroke-linecap="butt"/>
<line x1="228.99" y1="582.56" x2="228.99" y2="587.41" stroke="#000" stroke-width="1.5" stroke-linecap="butt"/>
<line x1="225.29" y1="570.91" x2="232.69" y2="570.91" stroke="#000" stroke-width="1.5" stroke-linecap="butt"/>
<line x1="225.29" y1="587.41" x2="232.69" y2="587.41" stroke="#000" stroke-width="1.5" stroke-linecap="butt"/>
<line x1="133.33" y1="560.25" x2="133.33" y2="567.16" stroke="#000" stroke-width="1.5" stroke-linecap="butt"/>
<line x1="133.33" y1="573.96" x2="133.33" y2="580.88" stroke="#000" stroke-width="1.5" stroke-linecap="butt"/>
<line x1="129.63" y1="560.25" x2="137.03" y2="560.25" stroke="#000" stroke-width="1.5" stroke-linecap="butt"/>
<line x1="129.63" y1="580.88" x2="137.03" y2="580.88" stroke="#000" stroke-width="1.5" stroke-linecap="butt"/>
<line x1="181.16" y1="571.52" x2="181.16" y2="579.81" stroke="#000" stroke-width="1.5" stroke-linecap="butt"/>
<line x1="181.16" y1="586.61" x2="181.16" y2="594.90" stroke="#000" stroke-width="1.5" stroke-linecap="butt"/>
<line x1="177.46" y1="571.52" x2="184.86" y2="571.52" stroke="#000" stroke-width="1.5" stroke-linecap="butt"/>
<line x1="177.46" y1="594.90" x2="184.86" y2="594.90" stroke="#000" stroke-width="1.5" stroke-linecap="butt"/>
<line x1="228.99" y1="579.84" x2="228.99" y2="583.32" stroke="#000" stroke-width="1.5" stroke-linecap="butt"/>
<line x1="228.99" y1="590.12" x2="228.99" y2="593.59" stroke="#000" stroke-width="1.5" stroke-linecap="butt"/>
<line x1="225.29" y1="579.84" x2="232.69" y2="579.84" stroke="#000" stroke-width="1.5" stroke-linecap="butt"/>
<line x1="225.29" y1="593.59" x2="232.69" y2="593.59" stroke="#000" stroke-width="1.5" stroke-linecap="butt"/>
<line x1="133.33" y1="624.46" x2="133.33" y2="627.25" stroke="#000" stroke-width="1.5" stroke-linecap="butt"/>
<line x1="133.33" y1="634.05" x2="133.33" y2="636.84" stroke="#000" stroke-width="1.5" stroke-linecap="butt"/>
<line x1="129.63" y1="624.46" x2="137.03" y2="624.46" stroke="#000" stroke-width="1.5" stroke-linecap="butt"/>
<line x1="129.63" y1="636.84" x2="137.03" y2="636.84" stroke="#000" stroke-width="1.5" stroke-linecap="butt"/>
<line x1="181.16" y1="634.71" x2="181.16" y2="636.12" stroke="#000" stroke-width="1.5" stroke-linecap="butt"/>
<line x1="181.16" y1="642.92" x2="181.16" y2="644.33" stroke="#000" stroke-width="1.5" stroke-linecap="butt"/>
<line x1="177.46" y1="634.71" x2="184.86" y2="634.71" stroke="#000" stroke-width="1.5" stroke-linecap="butt"/>
<line x1="177.46" y1="644.33" x2="184.86" y2="644.33" stroke="#000" stroke-width="1.5" stroke-linecap="butt"/>
<line x1="228.99" y1="634.84" x2="228.99" y2="636.94" stroke="#000" stroke-width="1.5" stroke-linecap="butt"/>
<line x1="228.99" y1="643.74" x2="228.99" y2="645.84" stroke="#000" stroke-width="1.5" stroke-linecap="butt"/>
<line x1="225.29" y1="634.84" x2="232.69" y2="634.84" stroke="#000" stroke-width="1.5" stroke-linecap="butt"/>
<line x1="225.29" y1="645.84" x2="232.69" y2="645.84" stroke="#000" stroke-width="1.5" stroke-linecap="butt"/>
<line x1="133.33" y1="609.27" x2="133.33" y2="615.49" stroke="#000" stroke-width="1.5" stroke-linecap="butt"/>
<line x1="133.33" y1="622.29" x2="133.33" y2="628.52" stroke="#000" stroke-width="1.5" stroke-linecap="butt"/>
<line x1="129.63" y1="609.27" x2="137.03" y2="609.27" stroke="#000" stroke-width="1.5" stroke-linecap="butt"/>
<line x1="129.63" y1="628.52" x2="137.03" y2="628.52" stroke="#000" stroke-width="1.5" stroke-linecap="butt"/>
<line x1="181.16" y1="634.50" x2="181.16" y2="637.98" stroke="#000" stroke-width="1.5" stroke-linecap="butt"/>
<line x1="181.16" y1="644.77" x2="181.16" y2="648.25" stroke="#000" stroke-width="1.5" stroke-linecap="butt"/>
<line x1="177.46" y1="634.50" x2="184.86" y2="634.50" stroke="#000" stroke-width="1.5" stroke-linecap="butt"/>
<line x1="177.46" y1="648.25" x2="184.86" y2="648.25" stroke="#000" stroke-width="1.5" stroke-linecap="butt"/>
<line x1="228.99" y1="630.58" x2="228.99" y2="634.74" stroke="#000" stroke-width="1.5" stroke-linecap="butt"/>
<line x1="228.99" y1="641.54" x2="228.99" y2="645.71" stroke="#000" stroke-width="1.5" stroke-linecap="butt"/>
<line x1="225.29" y1="630.58" x2="232.69" y2="630.58" stroke="#000" stroke-width="1.5" stroke-linecap="butt"/>
<line x1="225.29" y1="645.71" x2="232.69" y2="645.71" stroke="#000" stroke-width="1.5" stroke-linecap="butt"/>
<line x1="70.00" y1="509.30" x2="90.00" y2="509.30" stroke="#8e1838" stroke-width="1.7" stroke-linecap="butt"/>
<path d="M80.00 505.40L83.90 509.30L80.00 513.20L76.10 509.30Z" fill="none" stroke="#8e1838" stroke-width="1.8"/>
<text x="93.90" y="512.30" font-size="8.6" text-anchor="start" font-weight="normal" fill="#222" >WT</text>
<line x1="70.00" y1="521.80" x2="90.00" y2="521.80" stroke="#66a346" stroke-width="1.7" stroke-linecap="butt"/>
<path d="M80.00 517.80L83.90 524.80L76.10 524.80Z" fill="none" stroke="#66a346" stroke-width="1.8" stroke-linejoin="miter"/>
<text x="93.90" y="524.80" font-size="8.6" text-anchor="start" fill="#222">Neu<tspan font-size="6.02" dy="-3.61">ACE</tspan><tspan dy="3.61"></tspan></text>
<line x1="70.00" y1="534.70" x2="74.00" y2="534.70" stroke="#8e1838" stroke-width="1.7" stroke-linecap="butt"/>
<line x1="76.50" y1="534.70" x2="83.50" y2="534.70" stroke="#8e1838" stroke-width="1.7" stroke-linecap="butt"/>
<line x1="88.60" y1="535.00" x2="90.40" y2="535.00" stroke="#444" stroke-width="1.2" stroke-linecap="butt"/>
<rect x="77.00" y="531.70" width="6.00" height="6.00" fill="none" stroke="#8e1838" stroke-width="1.8"/>
<text x="93.90" y="537.70" font-size="8.6" text-anchor="start" font-weight="normal" fill="#222" >WT Aliskiren</text>
<line x1="70.00" y1="546.80" x2="74.00" y2="546.80" stroke="#66a346" stroke-width="1.7" stroke-linecap="butt"/>
<line x1="76.50" y1="546.80" x2="83.50" y2="546.80" stroke="#66a346" stroke-width="1.7" stroke-linecap="butt"/>
<line x1="88.60" y1="547.10" x2="90.40" y2="547.10" stroke="#444" stroke-width="1.2" stroke-linecap="butt"/>
<circle cx="80.00" cy="546.80" r="3.40" fill="#66a346" stroke="none"/>
<text x="93.90" y="549.80" font-size="8.6" text-anchor="start" fill="#222">Neu<tspan font-size="6.02" dy="-3.61">ACE</tspan><tspan dy="3.61"> Aliskiren</tspan></text>
<line x1="240.90" y1="577.10" x2="240.90" y2="588.60" stroke="#000" stroke-width="1.4" stroke-linecap="butt"/>
<line x1="240.90" y1="633.80" x2="240.90" y2="645.00" stroke="#000" stroke-width="1.4" stroke-linecap="butt"/>
<polyline points="240.90,582.85 245.30,582.85 245.30,639.40 240.90,639.40" fill="none" stroke="#000" stroke-width="1.4"/>
<text x="229.30" y="621.60" font-size="10.2" text-anchor="middle" font-weight="normal" fill="#222" >***</text>
<text x="272.60" y="273.20" font-size="10.5" text-anchor="start" font-weight="bold" fill="#111" >ii</text>
<line x1="319.30" y1="290.30" x2="319.30" y2="438.25" stroke="#000" stroke-width="1.5" stroke-linecap="butt"/>
<line x1="319.30" y1="438.25" x2="508.70" y2="438.25" stroke="#000" stroke-width="1.5" stroke-linecap="butt"/>
<line x1="315.80" y1="294.25" x2="319.30" y2="294.25" stroke="#000" stroke-width="1.4" stroke-linecap="butt"/>
<text transform="translate(307.70,298.95) scale(0.88,1)" font-size="9.0" text-anchor="end" fill="#222">10</text>
<text x="308.40" y="294.75" font-size="5.8" fill="#222">9</text>
<line x1="315.80" y1="366.25" x2="319.30" y2="366.25" stroke="#000" stroke-width="1.4" stroke-linecap="butt"/>
<text transform="translate(307.70,370.95) scale(0.88,1)" font-size="9.0" text-anchor="end" fill="#222">10</text>
<text x="308.40" y="366.75" font-size="5.8" fill="#222">8</text>
<line x1="315.80" y1="438.25" x2="319.30" y2="438.25" stroke="#000" stroke-width="1.4" stroke-linecap="butt"/>
<text transform="translate(307.70,442.95) scale(0.88,1)" font-size="9.0" text-anchor="end" fill="#222">10</text>
<text x="308.40" y="438.75" font-size="5.8" fill="#222">7</text>
<text transform="translate(291.60,363.65) rotate(-90) scale(0.92,1)" font-size="10.45" text-anchor="middle" fill="#222">Skin lesion CFU/ml</text>
<path d="M328.20 306.20L332.10 310.10L328.20 314.00L324.30 310.10Z" fill="none" stroke="#962040" stroke-width="1.5"/>
<path d="M337.30 307.40L341.20 311.30L337.30 315.20L333.40 311.30Z" fill="none" stroke="#962040" stroke-width="1.5"/>
<path d="M327.90 327.40L331.80 331.30L327.90 335.20L324.00 331.30Z" fill="none" stroke="#962040" stroke-width="1.5"/>
<path d="M337.30 328.80L341.20 332.70L337.30 336.60L333.40 332.70Z" fill="none" stroke="#962040" stroke-width="1.5"/>
<path d="M336.60 328.10L340.50 332.00L336.60 335.90L332.70 332.00Z" fill="none" stroke="#962040" stroke-width="1.5"/>
<path d="M327.50 333.60L331.40 337.50L327.50 341.40L323.60 337.50Z" fill="none" stroke="#962040" stroke-width="1.5"/>
<path d="M332.50 337.40L336.40 341.30L332.50 345.20L328.60 341.30Z" fill="none" stroke="#962040" stroke-width="1.5"/>
<path d="M332.50 349.50L336.40 353.40L332.50 357.30L328.60 353.40Z" fill="none" stroke="#962040" stroke-width="1.5"/>
<path d="M371.50 360.00L375.40 367.00L367.60 367.00Z" fill="none" stroke="#6f9c50" stroke-width="1.25" stroke-linejoin="miter"/>
<path d="M379.80 363.20L383.70 370.20L375.90 370.20Z" fill="none" stroke="#6f9c50" stroke-width="1.25" stroke-linejoin="miter"/>
<path d="M368.70 366.00L372.60 373.00L364.80 373.00Z" fill="none" stroke="#6f9c50" stroke-width="1.25" stroke-linejoin="miter"/>
<path d="M385.60 370.00L389.50 377.00L381.70 377.00Z" fill="none" stroke="#6f9c50" stroke-width="1.25" stroke-linejoin="miter"/>
<path d="M368.30 374.50L372.20 381.50L364.40 381.50Z" fill="none" stroke="#6f9c50" stroke-width="1.25" stroke-linejoin="miter"/>
<path d="M377.10 374.50L381.00 381.50L373.20 381.50Z" fill="none" stroke="#6f9c50" stroke-width="1.25" stroke-linejoin="miter"/>
<path d="M379.60 379.30L383.50 386.30L375.70 386.30Z" fill="none" stroke="#6f9c50" stroke-width="1.25" stroke-linejoin="miter"/>
<path d="M374.10 384.30L378.00 391.30L370.20 391.30Z" fill="none" stroke="#6f9c50" stroke-width="1.25" stroke-linejoin="miter"/>
<rect x="414.70" y="320.50" width="6.00" height="6.00" fill="none" stroke="#962040" stroke-width="1.5"/>
<rect x="424.10" y="319.50" width="6.00" height="6.00" fill="none" stroke="#962040" stroke-width="1.5"/>
<rect x="429.10" y="325.80" width="6.00" height="6.00" fill="none" stroke="#962040" stroke-width="1.5"/>
<rect x="419.30" y="326.70" width="6.00" height="6.00" fill="none" stroke="#962040" stroke-width="1.5"/>
<rect x="419.30" y="331.00" width="6.00" height="6.00" fill="none" stroke="#962040" stroke-width="1.5"/>
<rect x="429.10" y="338.70" width="6.00" height="6.00" fill="none" stroke="#962040" stroke-width="1.5"/>
<rect x="429.10" y="344.50" width="6.00" height="6.00" fill="none" stroke="#962040" stroke-width="1.5"/>
<rect x="419.50" y="350.30" width="6.00" height="6.00" fill="none" stroke="#962040" stroke-width="1.5"/>
<circle cx="474.60" cy="349.30" r="3.20" fill="none" stroke="#6f9c50" stroke-width="1.25"/>
<circle cx="468.70" cy="353.50" r="3.20" fill="none" stroke="#6f9c50" stroke-width="1.25"/>
<circle cx="480.10" cy="355.20" r="3.20" fill="none" stroke="#6f9c50" stroke-width="1.25"/>
<circle cx="474.60" cy="363.10" r="3.20" fill="none" stroke="#6f9c50" stroke-width="1.25"/>
<circle cx="468.70" cy="370.10" r="3.20" fill="none" stroke="#6f9c50" stroke-width="1.25"/>
<circle cx="480.10" cy="370.50" r="3.20" fill="none" stroke="#6f9c50" stroke-width="1.25"/>
<circle cx="474.60" cy="380.60" r="3.20" fill="none" stroke="#6f9c50" stroke-width="1.25"/>
<circle cx="474.60" cy="409.10" r="3.20" fill="none" stroke="#6f9c50" stroke-width="1.25"/>
<line x1="343.00" y1="328.40" x2="361.80" y2="328.40" stroke="#000" stroke-width="1.5" stroke-linecap="butt"/>
<line x1="352.70" y1="323.00" x2="352.70" y2="334.10" stroke="#000" stroke-width="1.5" stroke-linecap="butt"/>
<line x1="347.90" y1="323.00" x2="357.30" y2="323.00" stroke="#000" stroke-width="1.5" stroke-linecap="butt"/>
<line x1="347.90" y1="334.10" x2="357.30" y2="334.10" stroke="#000" stroke-width="1.5" stroke-linecap="butt"/>
<line x1="391.10" y1="373.80" x2="409.00" y2="373.80" stroke="#000" stroke-width="1.5" stroke-linecap="butt"/>
<line x1="399.80" y1="370.90" x2="399.80" y2="376.90" stroke="#000" stroke-width="1.5" stroke-linecap="butt"/>
<line x1="395.20" y1="370.90" x2="404.40" y2="370.90" stroke="#000" stroke-width="1.5" stroke-linecap="butt"/>
<line x1="395.20" y1="376.90" x2="404.40" y2="376.90" stroke="#000" stroke-width="1.5" stroke-linecap="butt"/>
<line x1="437.90" y1="333.40" x2="455.70" y2="333.40" stroke="#000" stroke-width="1.5" stroke-linecap="butt"/>
<line x1="447.20" y1="329.70" x2="447.20" y2="337.40" stroke="#000" stroke-width="1.5" stroke-linecap="butt"/>
<line x1="442.70" y1="329.70" x2="451.80" y2="329.70" stroke="#000" stroke-width="1.5" stroke-linecap="butt"/>
<line x1="442.70" y1="337.40" x2="451.80" y2="337.40" stroke="#000" stroke-width="1.5" stroke-linecap="butt"/>
<line x1="485.40" y1="364.60" x2="504.50" y2="364.60" stroke="#000" stroke-width="1.5" stroke-linecap="butt"/>
<line x1="494.50" y1="359.90" x2="494.50" y2="370.50" stroke="#000" stroke-width="1.5" stroke-linecap="butt"/>
<line x1="490.30" y1="359.90" x2="498.80" y2="359.90" stroke="#000" stroke-width="1.5" stroke-linecap="butt"/>
<line x1="490.30" y1="370.50" x2="498.80" y2="370.50" stroke="#000" stroke-width="1.5" stroke-linecap="butt"/>
<polyline points="350.80,317.20 350.80,313.80 395.40,313.80 395.40,317.20" fill="none" stroke="#000" stroke-width="1.4"/>
<text x="373.50" y="314.70" font-size="10.2" text-anchor="middle" font-weight="normal" fill="#222" >***</text>
<polyline points="393.80,293.80 393.80,289.80 488.90,289.80 488.90,293.80" fill="none" stroke="#000" stroke-width="1.4"/>
<text x="441.60" y="285.90" font-size="8.8" text-anchor="middle" font-weight="normal" fill="#222" >NS</text>
<polyline points="443.60,316.00 443.60,312.40 488.90,312.40 488.90,316.00" fill="none" stroke="#000" stroke-width="1.4"/>
<text x="466.20" y="313.70" font-size="10.2" text-anchor="middle" font-weight="normal" fill="#222" >**</text>
<text x="342.60" y="450.05" font-size="8.6" text-anchor="middle" font-weight="normal" fill="#222" >WT</text>
<text x="387.00" y="450.05" font-size="8.6" text-anchor="middle" fill="#222">Neu<tspan font-size="6.79" dy="-3.61">ACE</tspan><tspan dy="3.61"></tspan></text>
<text x="435.70" y="450.05" font-size="8.6" text-anchor="middle" font-weight="normal" fill="#222" >WT</text>
<text x="484.90" y="450.05" font-size="8.6" text-anchor="middle" fill="#222">Neu<tspan font-size="6.79" dy="-3.61">ACE</tspan><tspan dy="3.61"></tspan></text>
<text x="286.90" y="463.25" font-size="9.0" text-anchor="start" font-weight="normal" fill="#222" >Losartan</text>
<line x1="340.00" y1="460.45" x2="345.20" y2="460.45" stroke="#444" stroke-width="0.85" stroke-linecap="butt"/>
<line x1="384.20" y1="460.45" x2="389.40" y2="460.45" stroke="#444" stroke-width="0.85" stroke-linecap="butt"/>
<line x1="433.10" y1="460.45" x2="438.30" y2="460.45" stroke="#444" stroke-width="0.85" stroke-linecap="butt"/>
<line x1="435.70" y1="457.85" x2="435.70" y2="463.05" stroke="#444" stroke-width="0.85" stroke-linecap="butt"/>
<line x1="482.10" y1="460.45" x2="487.30" y2="460.45" stroke="#444" stroke-width="0.85" stroke-linecap="butt"/>
<line x1="484.70" y1="457.85" x2="484.70" y2="463.05" stroke="#444" stroke-width="0.85" stroke-linecap="butt"/>
<text x="272.60" y="508.80" font-size="10.5" text-anchor="start" font-weight="bold" fill="#111" >ii</text>
<line x1="319.30" y1="525.30" x2="319.30" y2="673.20" stroke="#000" stroke-width="1.5" stroke-linecap="butt"/>
<line x1="319.30" y1="673.20" x2="508.70" y2="673.20" stroke="#000" stroke-width="1.5" stroke-linecap="butt"/>
<line x1="315.80" y1="528.50" x2="319.30" y2="528.50" stroke="#000" stroke-width="1.4" stroke-linecap="butt"/>
<text transform="translate(307.70,533.20) scale(0.88,1)" font-size="9.0" text-anchor="end" fill="#222">10</text>
<text x="308.40" y="529.00" font-size="5.8" fill="#222">9</text>
<line x1="315.80" y1="600.85" x2="319.30" y2="600.85" stroke="#000" stroke-width="1.4" stroke-linecap="butt"/>
<text transform="translate(307.70,605.55) scale(0.88,1)" font-size="9.0" text-anchor="end" fill="#222">10</text>
<text x="308.40" y="601.35" font-size="5.8" fill="#222">8</text>
<line x1="315.80" y1="673.20" x2="319.30" y2="673.20" stroke="#000" stroke-width="1.4" stroke-linecap="butt"/>
<text transform="translate(307.70,677.90) scale(0.88,1)" font-size="9.0" text-anchor="end" fill="#222">10</text>
<text x="308.40" y="673.70" font-size="5.8" fill="#222">7</text>
<text transform="translate(291.60,598.25) rotate(-90) scale(0.92,1)" font-size="10.45" text-anchor="middle" fill="#222">Skin lesion CFU/ml</text>
<path d="M325.50 534.10L329.40 538.00L325.50 541.90L321.60 538.00Z" fill="none" stroke="#962040" stroke-width="1.5"/>
<path d="M330.00 538.35L333.90 542.25L330.00 546.15L326.10 542.25Z" fill="none" stroke="#962040" stroke-width="1.5"/>
<path d="M323.75 541.60L327.65 545.50L323.75 549.40L319.85 545.50Z" fill="none" stroke="#962040" stroke-width="1.5"/>
<path d="M333.00 542.10L336.90 546.00L333.00 549.90L329.10 546.00Z" fill="none" stroke="#962040" stroke-width="1.5"/>
<path d="M333.00 562.60L336.90 566.50L333.00 570.40L329.10 566.50Z" fill="none" stroke="#962040" stroke-width="1.5"/>
<path d="M338.00 565.85L341.90 569.75L338.00 573.65L334.10 569.75Z" fill="none" stroke="#962040" stroke-width="1.5"/>
<path d="M328.00 573.35L331.90 577.25L328.00 581.15L324.10 577.25Z" fill="none" stroke="#962040" stroke-width="1.5"/>
<path d="M380.20 580.50L384.10 587.50L376.30 587.50Z" fill="none" stroke="#6f9c50" stroke-width="1.25" stroke-linejoin="miter"/>
<path d="M374.40 591.30L378.30 598.30L370.50 598.30Z" fill="none" stroke="#6f9c50" stroke-width="1.25" stroke-linejoin="miter"/>
<path d="M371.50 593.80L375.40 600.80L367.60 600.80Z" fill="none" stroke="#6f9c50" stroke-width="1.25" stroke-linejoin="miter"/>
<path d="M380.20 593.90L384.10 600.90L376.30 600.90Z" fill="none" stroke="#6f9c50" stroke-width="1.25" stroke-linejoin="miter"/>
<path d="M368.70 600.50L372.60 607.50L364.80 607.50Z" fill="none" stroke="#6f9c50" stroke-width="1.25" stroke-linejoin="miter"/>
<path d="M386.00 604.20L389.90 611.20L382.10 611.20Z" fill="none" stroke="#6f9c50" stroke-width="1.25" stroke-linejoin="miter"/>
<path d="M379.80 610.10L383.70 617.10L375.90 617.10Z" fill="none" stroke="#6f9c50" stroke-width="1.25" stroke-linejoin="miter"/>
<path d="M374.10 618.90L378.00 625.90L370.20 625.90Z" fill="none" stroke="#6f9c50" stroke-width="1.25" stroke-linejoin="miter"/>
<rect x="419.50" y="535.50" width="6.00" height="6.00" fill="none" stroke="#962040" stroke-width="1.5"/>
<rect x="424.30" y="533.50" width="6.00" height="6.00" fill="none" stroke="#962040" stroke-width="1.5"/>
<rect x="429.30" y="536.90" width="6.00" height="6.00" fill="none" stroke="#962040" stroke-width="1.5"/>
<rect x="424.30" y="544.60" width="6.00" height="6.00" fill="none" stroke="#962040" stroke-width="1.5"/>
<rect x="424.30" y="554.20" width="6.00" height="6.00" fill="none" stroke="#962040" stroke-width="1.5"/>
<rect x="419.50" y="561.40" width="6.00" height="6.00" fill="none" stroke="#962040" stroke-width="1.5"/>
<rect x="429.30" y="561.40" width="6.00" height="6.00" fill="none" stroke="#962040" stroke-width="1.5"/>
<rect x="424.30" y="565.80" width="6.00" height="6.00" fill="none" stroke="#962040" stroke-width="1.5"/>
<circle cx="468.70" cy="588.10" r="3.20" fill="none" stroke="#6f9c50" stroke-width="1.25"/>
<circle cx="480.20" cy="585.90" r="3.20" fill="none" stroke="#6f9c50" stroke-width="1.25"/>
<circle cx="480.20" cy="590.20" r="3.20" fill="none" stroke="#6f9c50" stroke-width="1.25"/>
<circle cx="468.70" cy="595.20" r="3.20" fill="none" stroke="#6f9c50" stroke-width="1.25"/>
<circle cx="474.60" cy="600.80" r="3.20" fill="none" stroke="#6f9c50" stroke-width="1.25"/>
<circle cx="468.70" cy="605.40" r="3.20" fill="none" stroke="#6f9c50" stroke-width="1.25"/>
<circle cx="480.20" cy="605.40" r="3.20" fill="none" stroke="#6f9c50" stroke-width="1.25"/>
<circle cx="474.40" cy="615.70" r="3.20" fill="none" stroke="#6f9c50" stroke-width="1.25"/>
<line x1="343.25" y1="550.50" x2="362.50" y2="550.50" stroke="#000" stroke-width="1.5" stroke-linecap="butt"/>
<line x1="353.10" y1="545.50" x2="353.10" y2="555.50" stroke="#000" stroke-width="1.5" stroke-linecap="butt"/>
<line x1="348.75" y1="545.50" x2="357.50" y2="545.50" stroke="#000" stroke-width="1.5" stroke-linecap="butt"/>
<line x1="348.75" y1="555.50" x2="357.50" y2="555.50" stroke="#000" stroke-width="1.5" stroke-linecap="butt"/>
<line x1="390.20" y1="600.90" x2="409.60" y2="600.90" stroke="#000" stroke-width="1.5" stroke-linecap="butt"/>
<line x1="400.00" y1="597.10" x2="400.00" y2="605.20" stroke="#000" stroke-width="1.5" stroke-linecap="butt"/>
<line x1="395.20" y1="597.10" x2="404.80" y2="597.10" stroke="#000" stroke-width="1.5" stroke-linecap="butt"/>
<line x1="395.20" y1="605.20" x2="404.80" y2="605.20" stroke="#000" stroke-width="1.5" stroke-linecap="butt"/>
<line x1="437.90" y1="549.80" x2="456.60" y2="549.80" stroke="#000" stroke-width="1.5" stroke-linecap="butt"/>
<line x1="447.50" y1="545.70" x2="447.50" y2="554.80" stroke="#000" stroke-width="1.5" stroke-linecap="butt"/>
<line x1="443.20" y1="545.70" x2="451.80" y2="545.70" stroke="#000" stroke-width="1.5" stroke-linecap="butt"/>
<line x1="443.20" y1="554.80" x2="451.80" y2="554.80" stroke="#000" stroke-width="1.5" stroke-linecap="butt"/>
<line x1="485.20" y1="596.90" x2="503.80" y2="596.90" stroke="#000" stroke-width="1.5" stroke-linecap="butt"/>
<line x1="494.40" y1="593.60" x2="494.40" y2="600.80" stroke="#000" stroke-width="1.5" stroke-linecap="butt"/>
<line x1="490.00" y1="593.60" x2="498.90" y2="593.60" stroke="#000" stroke-width="1.5" stroke-linecap="butt"/>
<line x1="490.00" y1="600.80" x2="498.90" y2="600.80" stroke="#000" stroke-width="1.5" stroke-linecap="butt"/>
<polyline points="351.25,537.15 351.25,533.75 396.00,533.75 396.00,537.15" fill="none" stroke="#000" stroke-width="1.4"/>
<text x="374.00" y="534.95" font-size="10.2" text-anchor="middle" font-weight="normal" fill="#222" >***</text>
<polyline points="445.10,538.10 445.10,534.50 495.70,534.50 495.70,538.10" fill="none" stroke="#000" stroke-width="1.4"/>
<text x="470.60" y="536.40" font-size="10.2" text-anchor="middle" font-weight="normal" fill="#222" >***</text>
<text x="340.70" y="685.00" font-size="8.6" text-anchor="middle" font-weight="normal" fill="#222" >WT</text>
<text x="387.20" y="685.00" font-size="8.6" text-anchor="middle" fill="#222">Neu<tspan font-size="6.79" dy="-3.61">ACE</tspan><tspan dy="3.61"></tspan></text>
<text x="437.50" y="685.00" font-size="8.6" text-anchor="middle" font-weight="normal" fill="#222" >WT</text>
<text x="484.70" y="685.00" font-size="8.6" text-anchor="middle" fill="#222">Neu<tspan font-size="6.79" dy="-3.61">ACE</tspan><tspan dy="3.61"></tspan></text>
<text x="296.20" y="698.20" font-size="9.0" text-anchor="start" font-weight="normal" fill="#222" >Aliskiren</text>
<line x1="338.10" y1="695.40" x2="343.30" y2="695.40" stroke="#444" stroke-width="0.85" stroke-linecap="butt"/>
<line x1="384.40" y1="695.40" x2="389.60" y2="695.40" stroke="#444" stroke-width="0.85" stroke-linecap="butt"/>
<line x1="434.90" y1="695.40" x2="440.10" y2="695.40" stroke="#444" stroke-width="0.85" stroke-linecap="butt"/>
<line x1="437.50" y1="692.80" x2="437.50" y2="698.00" stroke="#444" stroke-width="0.85" stroke-linecap="butt"/>
<line x1="481.90" y1="695.40" x2="487.10" y2="695.40" stroke="#444" stroke-width="0.85" stroke-linecap="butt"/>
<line x1="484.50" y1="692.80" x2="484.50" y2="698.00" stroke="#444" stroke-width="0.85" stroke-linecap="butt"/>
<rect x="0" y="0" width="520" height="1.6" fill="#000"/>
<rect x="0" y="0" width="1.6" height="707" fill="#000"/>
<rect x="518.1" y="0" width="1.9" height="707" fill="#000"/>
<rect x="0" y="704.9" width="520" height="2.1" fill="#000"/>
</svg></body></html>
